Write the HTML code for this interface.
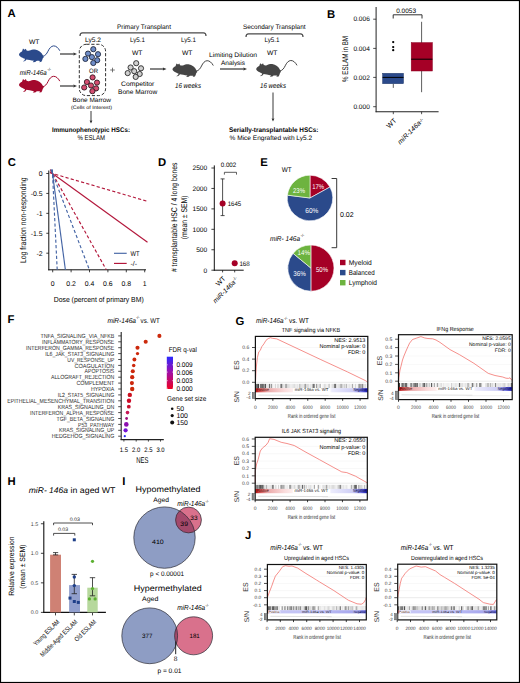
<!DOCTYPE html>
<html><head><meta charset="utf-8"><style>
html,body{margin:0;padding:0;background:#fff;}
body{width:520px;height:683px;overflow:hidden;}
svg{display:block;font-family:"Liberation Sans", sans-serif;text-rendering:geometricPrecision;}
</style></head><body>
<svg width="520" height="683" viewBox="0 0 520 683">
<rect x="0" y="0" width="520" height="683" fill="#fff"/>
<text x="7.50" y="17.00" font-size="11.3" font-weight="bold" fill="#000">A</text>
<text x="29.00" y="44.00" font-size="6.6" textLength="10.50" lengthAdjust="spacingAndGlyphs">WT</text>
<text x="19.70" y="74.80" font-size="7.0" font-style="italic" textLength="27.00" lengthAdjust="spacingAndGlyphs">miR-146a</text>
<text x="47.40" y="71.20" font-size="4.6" textLength="3.60" lengthAdjust="spacingAndGlyphs">-/-</text>
<g transform="translate(19.00,54.40) scale(1.0)"><path d="M0,0 C0.3,-1.2 1.5,-2.4 3.0,-3.0 L4.0,-5.8 L5.5,-4.6 L6.8,-5.7 L7.6,-4.0 C8.5,-3.6 9.5,-3.4 10.5,-3.8 C12,-4.6 14,-5.0 16,-4.9 C19.5,-4.5 22.5,-2.2 24.0,1.2 L24.8,2.8 L23.8,3.9 C23.4,5.5 23.0,6.6 22.4,7.4 L20.2,7.8 L20.6,7.1 L21.2,6.8 C20.0,6.4 18.5,6.3 17.4,6.6 L16.2,7.6 L13.8,7.8 L14.2,7.1 L15.0,6.4 C12,5.9 9,5.2 7.5,5.0 L6.2,6.6 L4.0,7.2 L4.4,6.6 L5.6,5.8 L6.0,4.4 C4.5,3.8 2.5,2.9 1.3,2.0 C0.5,1.5 0,0.8 0,0 Z" fill="#2b4a8b"/><path d="M24.0,1.9 C26.3,1.5 27.7,-0.6 29.0,-3.2 C30.3,-6.0 32.2,-8.4 34.6,-8.5 C37.0,-8.6 39.2,-6.6 40.6,-4.0" fill="none" stroke="#2b4a8b" stroke-width="1.0" stroke-linecap="round"/></g>
<g transform="translate(19.00,84.80) scale(1.0)"><path d="M0,0 C0.3,-1.2 1.5,-2.4 3.0,-3.0 L4.0,-5.8 L5.5,-4.6 L6.8,-5.7 L7.6,-4.0 C8.5,-3.6 9.5,-3.4 10.5,-3.8 C12,-4.6 14,-5.0 16,-4.9 C19.5,-4.5 22.5,-2.2 24.0,1.2 L24.8,2.8 L23.8,3.9 C23.4,5.5 23.0,6.6 22.4,7.4 L20.2,7.8 L20.6,7.1 L21.2,6.8 C20.0,6.4 18.5,6.3 17.4,6.6 L16.2,7.6 L13.8,7.8 L14.2,7.1 L15.0,6.4 C12,5.9 9,5.2 7.5,5.0 L6.2,6.6 L4.0,7.2 L4.4,6.6 L5.6,5.8 L6.0,4.4 C4.5,3.8 2.5,2.9 1.3,2.0 C0.5,1.5 0,0.8 0,0 Z" fill="#a4092d"/><path d="M24.0,1.9 C26.3,1.5 27.7,-0.6 29.0,-3.2 C30.3,-6.0 32.2,-8.4 34.6,-8.5 C37.0,-8.6 39.2,-6.6 40.6,-4.0" fill="none" stroke="#a4092d" stroke-width="1.0" stroke-linecap="round"/></g>
<line x1="60.00" y1="54.00" x2="73.40" y2="54.00" stroke="#333" stroke-width="1.2"/>
<path d="M77.00,54.00 L73.40,55.62 L73.40,52.38 Z" fill="#333"/>
<line x1="60.00" y1="86.00" x2="73.40" y2="86.00" stroke="#333" stroke-width="1.2"/>
<path d="M77.00,86.00 L73.40,87.62 L73.40,84.38 Z" fill="#333"/>
<text x="117.00" y="28.50" font-size="6.6" textLength="54.00" lengthAdjust="spacingAndGlyphs">Primary Transplant</text>
<path d="M80,35.9 Q80,32.9 82.5,32.9 L203.5,32.9 Q206,32.9 206,35.9" fill="none" stroke="#4a4a4a" stroke-width="1.2"/>
<text x="243.00" y="28.50" font-size="6.6" textLength="62.50" lengthAdjust="spacingAndGlyphs">Secondary Transplant</text>
<path d="M246,36.9 Q246,33.9 248.5,33.9 L300.5,33.9 Q303,33.9 303,36.9" fill="none" stroke="#4a4a4a" stroke-width="1.2"/>
<text x="85.00" y="41.60" font-size="6.5" textLength="16.00" lengthAdjust="spacingAndGlyphs">Ly5.2</text>
<text x="130.00" y="41.60" font-size="6.5" textLength="15.00" lengthAdjust="spacingAndGlyphs">Ly5.1</text>
<text x="181.00" y="41.60" font-size="6.5" textLength="15.00" lengthAdjust="spacingAndGlyphs">Ly5.1</text>
<text x="264.50" y="41.60" font-size="6.5" textLength="15.00" lengthAdjust="spacingAndGlyphs">Ly5.1</text>
<text x="132.00" y="55.00" font-size="6.6" textLength="10.50" lengthAdjust="spacingAndGlyphs">WT</text>
<text x="182.00" y="55.00" font-size="6.6" textLength="10.50" lengthAdjust="spacingAndGlyphs">WT</text>
<text x="267.00" y="55.00" font-size="6.6" textLength="10.50" lengthAdjust="spacingAndGlyphs">WT</text>
<rect x="79.30" y="44.30" width="26.30" height="51.30" fill="none" stroke="#1a1a1a" stroke-width="0.9" rx="7" stroke-dasharray="3.2 1.8"/>
<circle cx="93.30" cy="49.20" r="2.60" fill="#6f8dc8" stroke="#1a2238" stroke-width="0.85"/>
<circle cx="88.00" cy="53.60" r="2.60" fill="#6f8dc8" stroke="#1a2238" stroke-width="0.85"/>
<circle cx="98.00" cy="54.20" r="2.60" fill="#6f8dc8" stroke="#1a2238" stroke-width="0.85"/>
<circle cx="91.90" cy="57.10" r="2.60" fill="#6f8dc8" stroke="#1a2238" stroke-width="0.85"/>
<circle cx="85.40" cy="58.90" r="2.60" fill="#6f8dc8" stroke="#1a2238" stroke-width="0.85"/>
<circle cx="97.20" cy="60.20" r="2.60" fill="#6f8dc8" stroke="#1a2238" stroke-width="0.85"/>
<circle cx="93.30" cy="63.00" r="2.60" fill="#6f8dc8" stroke="#1a2238" stroke-width="0.85"/>
<circle cx="92.60" cy="77.40" r="2.60" fill="#d44d70" stroke="#2a161c" stroke-width="0.85"/>
<circle cx="86.90" cy="82.00" r="2.60" fill="#d44d70" stroke="#2a161c" stroke-width="0.85"/>
<circle cx="97.00" cy="82.60" r="2.60" fill="#d44d70" stroke="#2a161c" stroke-width="0.85"/>
<circle cx="91.00" cy="85.50" r="2.60" fill="#d44d70" stroke="#2a161c" stroke-width="0.85"/>
<circle cx="84.20" cy="87.50" r="2.60" fill="#d44d70" stroke="#2a161c" stroke-width="0.85"/>
<circle cx="96.10" cy="88.40" r="2.60" fill="#d44d70" stroke="#2a161c" stroke-width="0.85"/>
<circle cx="92.40" cy="91.20" r="2.60" fill="#d44d70" stroke="#2a161c" stroke-width="0.85"/>
<text x="89.00" y="73.00" font-size="6.3" textLength="9.00" lengthAdjust="spacingAndGlyphs">OR</text>
<text x="72.50" y="102.00" font-size="6.3" textLength="38.50" lengthAdjust="spacingAndGlyphs">Bone Marrow</text>
<text x="71.00" y="108.60" font-size="4.9" textLength="41.00" lengthAdjust="spacingAndGlyphs">(Cells of Interest)</text>
<line x1="91.00" y1="111.00" x2="91.00" y2="120.50" stroke="#222" stroke-width="0.9"/>
<path d="M91.00,123.50 L89.65,120.50 L92.35,120.50 Z" fill="#222"/>
<text x="52.00" y="131.70" font-size="6.7" font-weight="bold" textLength="78.00" lengthAdjust="spacingAndGlyphs">Immunophenotypic HSCs:</text>
<text x="77.50" y="140.00" font-size="7.0" textLength="27.50" lengthAdjust="spacingAndGlyphs">% ESLAM</text>
<line x1="110.20" y1="70.00" x2="114.80" y2="70.00" stroke="#555" stroke-width="0.8"/>
<line x1="112.50" y1="67.70" x2="112.50" y2="72.30" stroke="#555" stroke-width="0.8"/>
<circle cx="136.20" cy="63.20" r="2.60" fill="#cfcfcf" stroke="#1e1e1e" stroke-width="0.85"/>
<circle cx="130.60" cy="67.50" r="2.60" fill="#cfcfcf" stroke="#1e1e1e" stroke-width="0.85"/>
<circle cx="141.00" cy="68.30" r="2.60" fill="#cfcfcf" stroke="#1e1e1e" stroke-width="0.85"/>
<circle cx="134.20" cy="71.20" r="2.60" fill="#cfcfcf" stroke="#1e1e1e" stroke-width="0.85"/>
<circle cx="127.70" cy="73.10" r="2.60" fill="#cfcfcf" stroke="#1e1e1e" stroke-width="0.85"/>
<circle cx="139.70" cy="74.00" r="2.60" fill="#cfcfcf" stroke="#1e1e1e" stroke-width="0.85"/>
<circle cx="135.70" cy="76.90" r="2.60" fill="#cfcfcf" stroke="#1e1e1e" stroke-width="0.85"/>
<text x="121.00" y="85.80" font-size="6.6" textLength="33.40" lengthAdjust="spacingAndGlyphs">Competitor</text>
<text x="118.00" y="93.60" font-size="6.6" textLength="39.30" lengthAdjust="spacingAndGlyphs">Bone Marrow</text>
<line x1="150.00" y1="69.00" x2="162.90" y2="69.00" stroke="#333" stroke-width="1.2"/>
<path d="M166.50,69.00 L162.90,70.62 L162.90,67.38 Z" fill="#333"/>
<g transform="translate(172.50,69.20) scale(1.0)"><path d="M0,0 C0.3,-1.2 1.5,-2.4 3.0,-3.0 L4.0,-5.8 L5.5,-4.6 L6.8,-5.7 L7.6,-4.0 C8.5,-3.6 9.5,-3.4 10.5,-3.8 C12,-4.6 14,-5.0 16,-4.9 C19.5,-4.5 22.5,-2.2 24.0,1.2 L24.8,2.8 L23.8,3.9 C23.4,5.5 23.0,6.6 22.4,7.4 L20.2,7.8 L20.6,7.1 L21.2,6.8 C20.0,6.4 18.5,6.3 17.4,6.6 L16.2,7.6 L13.8,7.8 L14.2,7.1 L15.0,6.4 C12,5.9 9,5.2 7.5,5.0 L6.2,6.6 L4.0,7.2 L4.4,6.6 L5.6,5.8 L6.0,4.4 C4.5,3.8 2.5,2.9 1.3,2.0 C0.5,1.5 0,0.8 0,0 Z" fill="#454545"/><path d="M24.0,1.9 C26.3,1.5 27.7,-0.6 29.0,-3.2 C30.3,-6.0 32.2,-8.4 34.6,-8.5 C37.0,-8.6 39.2,-6.6 40.6,-4.0" fill="none" stroke="#454545" stroke-width="1.0" stroke-linecap="round"/></g>
<text x="175.00" y="87.60" font-size="7.1" font-style="italic" textLength="26.00" lengthAdjust="spacingAndGlyphs">16 weeks</text>
<text x="209.00" y="57.00" font-size="6.4" textLength="48.00" lengthAdjust="spacingAndGlyphs">Limiting Dilution</text>
<text x="221.00" y="64.70" font-size="6.4" textLength="24.00" lengthAdjust="spacingAndGlyphs">Analysis</text>
<line x1="220.00" y1="69.00" x2="243.40" y2="69.00" stroke="#333" stroke-width="1.2"/>
<path d="M247.00,69.00 L243.40,70.62 L243.40,67.38 Z" fill="#333"/>
<g transform="translate(256.20,69.00) scale(1.0)"><path d="M0,0 C0.3,-1.2 1.5,-2.4 3.0,-3.0 L4.0,-5.8 L5.5,-4.6 L6.8,-5.7 L7.6,-4.0 C8.5,-3.6 9.5,-3.4 10.5,-3.8 C12,-4.6 14,-5.0 16,-4.9 C19.5,-4.5 22.5,-2.2 24.0,1.2 L24.8,2.8 L23.8,3.9 C23.4,5.5 23.0,6.6 22.4,7.4 L20.2,7.8 L20.6,7.1 L21.2,6.8 C20.0,6.4 18.5,6.3 17.4,6.6 L16.2,7.6 L13.8,7.8 L14.2,7.1 L15.0,6.4 C12,5.9 9,5.2 7.5,5.0 L6.2,6.6 L4.0,7.2 L4.4,6.6 L5.6,5.8 L6.0,4.4 C4.5,3.8 2.5,2.9 1.3,2.0 C0.5,1.5 0,0.8 0,0 Z" fill="#454545"/><path d="M24.0,1.9 C26.3,1.5 27.7,-0.6 29.0,-3.2 C30.3,-6.0 32.2,-8.4 34.6,-8.5 C37.0,-8.6 39.2,-6.6 40.6,-4.0" fill="none" stroke="#454545" stroke-width="1.0" stroke-linecap="round"/></g>
<text x="260.00" y="87.60" font-size="7.1" font-style="italic" textLength="26.00" lengthAdjust="spacingAndGlyphs">16 weeks</text>
<line x1="273.00" y1="92.50" x2="273.00" y2="118.50" stroke="#222" stroke-width="0.9"/>
<path d="M273.00,121.50 L271.65,118.50 L274.35,118.50 Z" fill="#222"/>
<text x="229.00" y="131.60" font-size="6.7" font-weight="bold" textLength="89.50" lengthAdjust="spacingAndGlyphs">Serially-transplantable HSCs:</text>
<text x="229.60" y="139.80" font-size="6.4" textLength="82.50" lengthAdjust="spacingAndGlyphs">% Mice Engrafted with Ly5.2</text>
<text x="327.00" y="17.80" font-size="11.3" font-weight="bold" fill="#000">B</text>
<line x1="376.10" y1="7.00" x2="376.10" y2="112.20" stroke="#222" stroke-width="1.0"/>
<line x1="375.60" y1="111.70" x2="438.60" y2="111.70" stroke="#222" stroke-width="1.1"/>
<line x1="373.20" y1="19.20" x2="376.10" y2="19.20" stroke="#222" stroke-width="0.8"/>
<text x="369.80" y="21.40" font-size="6.6" text-anchor="end" textLength="16.40" lengthAdjust="spacingAndGlyphs">0.006</text>
<line x1="373.20" y1="48.40" x2="376.10" y2="48.40" stroke="#222" stroke-width="0.8"/>
<text x="369.80" y="50.60" font-size="6.6" text-anchor="end" textLength="16.40" lengthAdjust="spacingAndGlyphs">0.004</text>
<line x1="373.20" y1="77.40" x2="376.10" y2="77.40" stroke="#222" stroke-width="0.8"/>
<text x="369.80" y="79.60" font-size="6.6" text-anchor="end" textLength="16.40" lengthAdjust="spacingAndGlyphs">0.002</text>
<line x1="373.20" y1="106.70" x2="376.10" y2="106.70" stroke="#222" stroke-width="0.8"/>
<text x="369.80" y="108.90" font-size="6.6" text-anchor="end" textLength="16.40" lengthAdjust="spacingAndGlyphs">0.000</text>
<line x1="393.30" y1="111.70" x2="393.30" y2="114.20" stroke="#222" stroke-width="0.8"/>
<line x1="421.60" y1="111.70" x2="421.60" y2="114.20" stroke="#222" stroke-width="0.8"/>
<line x1="393.30" y1="83.80" x2="393.30" y2="87.90" stroke="#333" stroke-width="0.8"/>
<line x1="421.60" y1="21.80" x2="421.60" y2="92.20" stroke="#333" stroke-width="0.8"/>
<rect x="382.60" y="73.30" width="20.90" height="10.40" fill="#2b4a8b" stroke="#1e3668" stroke-width="0.5"/>
<line x1="382.60" y1="77.40" x2="403.50" y2="77.40" stroke="#000" stroke-width="1.0"/>
<rect x="411.20" y="42.60" width="21.20" height="28.40" fill="#a50026" stroke="#8a0020" stroke-width="0.5"/>
<line x1="411.20" y1="59.20" x2="432.40" y2="59.20" stroke="#000" stroke-width="1.0"/>
<circle cx="393.20" cy="42.10" r="1.15" fill="#000"/>
<circle cx="393.20" cy="47.10" r="1.15" fill="#000"/>
<circle cx="393.20" cy="50.20" r="1.15" fill="#000"/>
<text x="396.20" y="12.70" font-size="6.4" textLength="19.80" lengthAdjust="spacingAndGlyphs">0.0053</text>
<path d="M393.2,18.5 L393.2,14.8 L422,14.8 L422,18.5" fill="none" stroke="#333" stroke-width="1.0"/>
<text x="348.20" y="59.00" font-size="8.2" text-anchor="middle" textLength="46.00" lengthAdjust="spacingAndGlyphs" transform="rotate(-90 348.20 59.00)">% ESLAM in BM</text>
<text x="397.00" y="121.00" font-size="7.0" text-anchor="end" transform="rotate(-45 397.00 121.00)">WT</text>
<text x="421.40" y="123.60" font-size="6.9" text-anchor="end" font-style="italic" transform="rotate(-45 421.40 123.60)">miR-146a</text>
<text x="423.60" y="119.80" font-size="4.4" text-anchor="end" transform="rotate(-45 423.60 119.80)">-/-</text>
<text x="7.70" y="165.70" font-size="11.3" font-weight="bold" fill="#000">C</text>
<line x1="48.80" y1="170.50" x2="48.80" y2="270.30" stroke="#111" stroke-width="1.0"/>
<line x1="48.30" y1="269.80" x2="146.00" y2="269.80" stroke="#111" stroke-width="1.0"/>
<line x1="46.30" y1="173.50" x2="48.80" y2="173.50" stroke="#111" stroke-width="0.8"/>
<text x="42.60" y="175.90" font-size="6.9" text-anchor="end">0</text>
<line x1="46.30" y1="193.43" x2="48.80" y2="193.43" stroke="#111" stroke-width="0.8"/>
<text x="42.60" y="195.83" font-size="6.9" text-anchor="end">-0.5</text>
<line x1="46.30" y1="213.35" x2="48.80" y2="213.35" stroke="#111" stroke-width="0.8"/>
<text x="42.60" y="215.75" font-size="6.9" text-anchor="end">-1</text>
<line x1="46.30" y1="233.27" x2="48.80" y2="233.27" stroke="#111" stroke-width="0.8"/>
<text x="42.60" y="235.67" font-size="6.9" text-anchor="end">-1.5</text>
<line x1="46.30" y1="253.20" x2="48.80" y2="253.20" stroke="#111" stroke-width="0.8"/>
<text x="42.60" y="255.60" font-size="6.9" text-anchor="end">-2</text>
<line x1="52.70" y1="269.80" x2="52.70" y2="272.30" stroke="#111" stroke-width="0.8"/>
<text x="52.70" y="285.60" font-size="6.9" text-anchor="middle">0</text>
<line x1="71.10" y1="269.80" x2="71.10" y2="272.30" stroke="#111" stroke-width="0.8"/>
<text x="71.10" y="285.60" font-size="6.9" text-anchor="middle">0.2</text>
<line x1="89.50" y1="269.80" x2="89.50" y2="272.30" stroke="#111" stroke-width="0.8"/>
<text x="89.50" y="285.60" font-size="6.9" text-anchor="middle">0.4</text>
<line x1="107.90" y1="269.80" x2="107.90" y2="272.30" stroke="#111" stroke-width="0.8"/>
<text x="107.90" y="285.60" font-size="6.9" text-anchor="middle">0.6</text>
<line x1="126.30" y1="269.80" x2="126.30" y2="272.30" stroke="#111" stroke-width="0.8"/>
<text x="126.30" y="285.60" font-size="6.9" text-anchor="middle">0.8</text>
<line x1="144.70" y1="269.80" x2="144.70" y2="272.30" stroke="#111" stroke-width="0.8"/>
<text x="144.70" y="285.60" font-size="6.9" text-anchor="middle">1</text>
<text x="53.70" y="301.60" font-size="7.4" textLength="90.00" lengthAdjust="spacingAndGlyphs">Dose (percent of primary BM)</text>
<text x="25.60" y="220.20" font-size="8.4" text-anchor="middle" textLength="85.70" lengthAdjust="spacingAndGlyphs" transform="rotate(-90 25.60 220.20)">Log fraction non-responding</text>
<line x1="50.00" y1="172.77" x2="147.50" y2="201.34" stroke="#b3173b" stroke-width="1.15" stroke-dasharray="3.2 2.2"/>
<line x1="50.00" y1="171.69" x2="147.50" y2="242.19" stroke="#b3173b" stroke-width="1.15"/>
<line x1="50.27" y1="169.50" x2="106.30" y2="269.80" stroke="#b3173b" stroke-width="1.15" stroke-dasharray="3.2 2.2"/>
<line x1="50.97" y1="169.50" x2="89.40" y2="269.80" stroke="#4565a5" stroke-width="1.15" stroke-dasharray="3.2 2.2"/>
<line x1="51.96" y1="169.50" x2="65.39" y2="269.80" stroke="#4565a5" stroke-width="1.15"/>
<line x1="52.30" y1="169.50" x2="57.20" y2="269.80" stroke="#4565a5" stroke-width="1.15" stroke-dasharray="3.2 2.2"/>
<line x1="114.00" y1="253.30" x2="126.70" y2="253.30" stroke="#4565a5" stroke-width="1.15"/>
<text x="130.50" y="255.70" font-size="6.9" textLength="9.00" lengthAdjust="spacingAndGlyphs">WT</text>
<line x1="114.00" y1="263.40" x2="126.70" y2="263.40" stroke="#b3173b" stroke-width="1.15"/>
<text x="130.50" y="265.70" font-size="6.9" textLength="6.50" lengthAdjust="spacingAndGlyphs">-/-</text>
<text x="158.00" y="165.90" font-size="11.3" font-weight="bold" fill="#000">D</text>
<line x1="214.30" y1="165.40" x2="214.30" y2="270.70" stroke="#111" stroke-width="1.0"/>
<line x1="213.80" y1="270.20" x2="243.70" y2="270.20" stroke="#111" stroke-width="1.0"/>
<line x1="211.40" y1="270.20" x2="214.30" y2="270.20" stroke="#111" stroke-width="0.8"/>
<text x="207.20" y="272.50" font-size="6.6" text-anchor="end">0</text>
<line x1="211.40" y1="249.76" x2="214.30" y2="249.76" stroke="#111" stroke-width="0.8"/>
<text x="207.20" y="252.06" font-size="6.6" text-anchor="end">500</text>
<line x1="211.40" y1="229.32" x2="214.30" y2="229.32" stroke="#111" stroke-width="0.8"/>
<text x="207.20" y="231.62" font-size="6.6" text-anchor="end">1000</text>
<line x1="211.40" y1="208.88" x2="214.30" y2="208.88" stroke="#111" stroke-width="0.8"/>
<text x="207.20" y="211.18" font-size="6.6" text-anchor="end">1500</text>
<line x1="211.40" y1="188.44" x2="214.30" y2="188.44" stroke="#111" stroke-width="0.8"/>
<text x="207.20" y="190.74" font-size="6.6" text-anchor="end">2000</text>
<line x1="211.40" y1="168.00" x2="214.30" y2="168.00" stroke="#111" stroke-width="0.8"/>
<text x="207.20" y="170.30" font-size="6.6" text-anchor="end">2500</text>
<line x1="222.60" y1="270.20" x2="222.60" y2="272.40" stroke="#111" stroke-width="0.8"/>
<line x1="234.70" y1="270.20" x2="234.70" y2="272.40" stroke="#111" stroke-width="0.8"/>
<line x1="222.60" y1="178.90" x2="222.60" y2="215.60" stroke="#222" stroke-width="0.8"/>
<line x1="220.60" y1="178.90" x2="224.60" y2="178.90" stroke="#222" stroke-width="0.8"/>
<line x1="220.60" y1="215.60" x2="224.60" y2="215.60" stroke="#222" stroke-width="0.8"/>
<circle cx="222.60" cy="203.50" r="3.00" fill="#a50026"/>
<circle cx="234.70" cy="263.30" r="3.00" fill="#a50026"/>
<text x="227.70" y="205.60" font-size="6.6" textLength="13.50" lengthAdjust="spacingAndGlyphs">1645</text>
<text x="239.40" y="265.60" font-size="6.6" textLength="10.40" lengthAdjust="spacingAndGlyphs">168</text>
<text x="220.70" y="167.20" font-size="6.4" textLength="15.60" lengthAdjust="spacingAndGlyphs">0.002</text>
<path d="M224.4,174.6 L224.4,172.3 L236.5,172.3 L236.5,174.6" fill="none" stroke="#333" stroke-width="0.8"/>
<text x="177.40" y="217.30" font-size="8.3" text-anchor="middle" textLength="109.60" lengthAdjust="spacingAndGlyphs" transform="rotate(-90 177.40 217.30)"># transplantable HSC / 4 long bones</text>
<text x="187.00" y="217.40" font-size="8.3" text-anchor="middle" textLength="43.90" lengthAdjust="spacingAndGlyphs" transform="rotate(-90 187.00 217.40)">(mean ± SEM)</text>
<text x="226.00" y="279.00" font-size="6.9" text-anchor="end" transform="rotate(-45 226.00 279.00)">WT</text>
<text x="236.00" y="282.90" font-size="6.7" text-anchor="end" font-style="italic" transform="rotate(-45 236.00 282.90)">miR-146a</text>
<text x="237.20" y="278.20" font-size="4.4" text-anchor="end" transform="rotate(-45 237.20 278.20)">-/-</text>
<text x="260.20" y="165.60" font-size="11.3" font-weight="bold" fill="#000">E</text>
<text x="281.80" y="171.80" font-size="6.9" textLength="9.90" lengthAdjust="spacingAndGlyphs">WT</text>
<path d="M310.00,198.00 L310.00,175.20 A22.8,22.8 0 0 1 329.98,187.02 Z" fill="#a50026" stroke="#fff" stroke-width="0.6"/>
<path d="M310.00,198.00 L329.98,187.02 A22.8,22.8 0 1 1 287.38,195.14 Z" fill="#2b4a8b" stroke="#fff" stroke-width="0.6"/>
<path d="M310.00,198.00 L287.38,195.14 A22.8,22.8 0 0 1 310.00,175.20 Z" fill="#6db33f" stroke="#fff" stroke-width="0.6"/>
<text x="318.20" y="189.00" font-size="7.0" text-anchor="middle" fill="#fff" textLength="12.00" lengthAdjust="spacingAndGlyphs">17%</text>
<text x="299.00" y="192.80" font-size="7.0" text-anchor="middle" fill="#fff" textLength="12.00" lengthAdjust="spacingAndGlyphs">23%</text>
<text x="311.80" y="213.30" font-size="7.0" text-anchor="middle" fill="#fff" textLength="13.00" lengthAdjust="spacingAndGlyphs">60%</text>
<path d="M331.6,178.5 L336.7,178.5 L336.7,247.7 L331.6,247.7" fill="none" stroke="#222" stroke-width="0.9"/>
<text x="340.00" y="217.00" font-size="7.0" textLength="13.70" lengthAdjust="spacingAndGlyphs">0.02</text>
<text x="270.00" y="241.00" font-size="7.0" font-style="italic" textLength="30.00" lengthAdjust="spacingAndGlyphs">miR- 146a</text>
<text x="300.80" y="237.20" font-size="4.6" textLength="3.40" lengthAdjust="spacingAndGlyphs">-/-</text>
<path d="M310.90,268.10 L310.90,245.00 A23.1,23.1 0 0 1 310.90,291.20 Z" fill="#a50026" stroke="#fff" stroke-width="0.6"/>
<path d="M310.90,268.10 L310.90,291.20 A23.1,23.1 0 0 1 293.10,253.38 Z" fill="#2b4a8b" stroke="#fff" stroke-width="0.6"/>
<path d="M310.90,268.10 L293.10,253.38 A23.1,23.1 0 0 1 310.90,245.00 Z" fill="#6db33f" stroke="#fff" stroke-width="0.6"/>
<text x="322.00" y="272.30" font-size="7.0" text-anchor="middle" fill="#fff" textLength="12.00" lengthAdjust="spacingAndGlyphs">50%</text>
<text x="299.60" y="275.80" font-size="7.0" text-anchor="middle" fill="#fff" textLength="12.50" lengthAdjust="spacingAndGlyphs">36%</text>
<text x="303.80" y="255.30" font-size="7.0" text-anchor="middle" fill="#fff" textLength="12.50" lengthAdjust="spacingAndGlyphs">14%</text>
<rect x="340.00" y="259.80" width="5.50" height="5.40" fill="#a50026"/>
<text x="348.80" y="264.80" font-size="7.0" textLength="23.00" lengthAdjust="spacingAndGlyphs">Myeloid</text>
<rect x="340.00" y="269.90" width="5.50" height="5.40" fill="#2b4a8b"/>
<text x="348.80" y="274.90" font-size="7.0" textLength="25.80" lengthAdjust="spacingAndGlyphs">Balanced</text>
<rect x="340.00" y="280.00" width="5.50" height="5.40" fill="#6db33f"/>
<text x="348.80" y="285.00" font-size="7.0" textLength="28.20" lengthAdjust="spacingAndGlyphs">Lymphoid</text>
<text x="7.50" y="323.20" font-size="11.3" font-weight="bold" fill="#000">F</text>
<text x="107.40" y="323.10" font-size="7.1" font-style="italic" textLength="28.60" lengthAdjust="spacingAndGlyphs">miR-146a</text>
<text x="136.20" y="319.40" font-size="4.6" textLength="3.30" lengthAdjust="spacingAndGlyphs">-/-</text>
<text x="140.60" y="323.10" font-size="7.1" textLength="19.10" lengthAdjust="spacingAndGlyphs">vs. WT</text>
<text x="114.30" y="338.00" font-size="6.0" text-anchor="end" fill="#2a2a2a" textLength="73.90" lengthAdjust="spacingAndGlyphs">TNFA_SIGNALING_VIA_NFKB</text>
<line x1="118.20" y1="335.90" x2="121.20" y2="335.90" stroke="#222" stroke-width="0.8"/>
<circle cx="159.40" cy="335.90" r="2.05" fill="#cc2a0c"/>
<text x="114.30" y="343.90" font-size="6.0" text-anchor="end" fill="#2a2a2a" textLength="72.30" lengthAdjust="spacingAndGlyphs">INFLAMMATORY_RESPONSE</text>
<line x1="118.20" y1="341.80" x2="121.20" y2="341.80" stroke="#222" stroke-width="0.8"/>
<circle cx="145.70" cy="341.80" r="2.05" fill="#cc2a0c"/>
<text x="114.30" y="349.80" font-size="6.0" text-anchor="end" fill="#2a2a2a" textLength="88.30" lengthAdjust="spacingAndGlyphs">INTERFERON_GAMMA_RESPONSE</text>
<line x1="118.20" y1="347.70" x2="121.20" y2="347.70" stroke="#222" stroke-width="0.8"/>
<circle cx="137.50" cy="347.70" r="2.05" fill="#cc280c"/>
<text x="114.30" y="355.70" font-size="6.0" text-anchor="end" fill="#2a2a2a" textLength="69.10" lengthAdjust="spacingAndGlyphs">IL6_JAK_STAT3_SIGNALING</text>
<line x1="118.20" y1="353.60" x2="121.20" y2="353.60" stroke="#222" stroke-width="0.8"/>
<circle cx="137.50" cy="353.60" r="1.65" fill="#cc280c"/>
<text x="114.30" y="361.60" font-size="6.0" text-anchor="end" fill="#2a2a2a" textLength="47.00" lengthAdjust="spacingAndGlyphs">UV_RESPONSE_UP</text>
<line x1="118.20" y1="359.50" x2="121.20" y2="359.50" stroke="#222" stroke-width="0.8"/>
<circle cx="134.40" cy="359.50" r="1.95" fill="#cc280c"/>
<text x="114.30" y="367.50" font-size="6.0" text-anchor="end" fill="#2a2a2a" textLength="39.80" lengthAdjust="spacingAndGlyphs">COAGULATION</text>
<line x1="118.20" y1="365.40" x2="121.20" y2="365.40" stroke="#222" stroke-width="0.8"/>
<circle cx="133.70" cy="365.40" r="1.75" fill="#cc280c"/>
<text x="114.30" y="373.40" font-size="6.0" text-anchor="end" fill="#2a2a2a" textLength="29.70" lengthAdjust="spacingAndGlyphs">APOPTOSIS</text>
<line x1="118.20" y1="371.30" x2="121.20" y2="371.30" stroke="#222" stroke-width="0.8"/>
<circle cx="132.80" cy="371.30" r="2.05" fill="#cc280c"/>
<text x="114.30" y="379.30" font-size="6.0" text-anchor="end" fill="#2a2a2a" textLength="63.30" lengthAdjust="spacingAndGlyphs">ALLOGRAFT_REJECTION</text>
<line x1="118.20" y1="377.20" x2="121.20" y2="377.20" stroke="#222" stroke-width="0.8"/>
<circle cx="132.20" cy="377.20" r="2.15" fill="#cc260c"/>
<text x="114.30" y="385.20" font-size="6.0" text-anchor="end" fill="#2a2a2a" textLength="37.90" lengthAdjust="spacingAndGlyphs">COMPLEMENT</text>
<line x1="118.20" y1="383.10" x2="121.20" y2="383.10" stroke="#222" stroke-width="0.8"/>
<circle cx="131.90" cy="383.10" r="2.05" fill="#cc260c"/>
<text x="114.30" y="391.10" font-size="6.0" text-anchor="end" fill="#2a2a2a" textLength="23.40" lengthAdjust="spacingAndGlyphs">HYPOXIA</text>
<line x1="118.20" y1="389.00" x2="121.20" y2="389.00" stroke="#222" stroke-width="0.8"/>
<circle cx="132.20" cy="389.00" r="2.20" fill="#cc2a0a"/>
<text x="114.30" y="397.00" font-size="6.0" text-anchor="end" fill="#2a2a2a" textLength="56.60" lengthAdjust="spacingAndGlyphs">IL2_STAT5_SIGNALING</text>
<line x1="118.20" y1="394.90" x2="121.20" y2="394.90" stroke="#222" stroke-width="0.8"/>
<circle cx="129.80" cy="394.90" r="2.20" fill="#cc1020"/>
<text x="114.30" y="402.90" font-size="6.0" text-anchor="end" fill="#2a2a2a" textLength="107.10" lengthAdjust="spacingAndGlyphs">EPITHELIAL_MESENCHYMAL_TRANSITION</text>
<line x1="118.20" y1="400.80" x2="121.20" y2="400.80" stroke="#222" stroke-width="0.8"/>
<circle cx="129.00" cy="400.80" r="2.20" fill="#cc0a26"/>
<text x="114.30" y="408.80" font-size="6.0" text-anchor="end" fill="#2a2a2a" textLength="56.60" lengthAdjust="spacingAndGlyphs">KRAS_SIGNALING_DN</text>
<line x1="118.20" y1="406.70" x2="121.20" y2="406.70" stroke="#222" stroke-width="0.8"/>
<circle cx="128.80" cy="406.70" r="1.90" fill="#c8102e"/>
<text x="114.30" y="414.70" font-size="6.0" text-anchor="end" fill="#2a2a2a" textLength="84.30" lengthAdjust="spacingAndGlyphs">INTERFERON_ALPHA_RESPONSE</text>
<line x1="118.20" y1="412.60" x2="121.20" y2="412.60" stroke="#222" stroke-width="0.8"/>
<circle cx="127.50" cy="412.60" r="1.80" fill="#c81856"/>
<text x="114.30" y="420.60" font-size="6.0" text-anchor="end" fill="#2a2a2a" textLength="57.80" lengthAdjust="spacingAndGlyphs">TGF_BETA_SIGNALING</text>
<line x1="118.20" y1="418.50" x2="121.20" y2="418.50" stroke="#222" stroke-width="0.8"/>
<circle cx="126.60" cy="418.50" r="1.40" fill="#a0107a"/>
<text x="114.30" y="426.50" font-size="6.0" text-anchor="end" fill="#2a2a2a" textLength="36.30" lengthAdjust="spacingAndGlyphs">P53_PATHWAY</text>
<line x1="118.20" y1="424.40" x2="121.20" y2="424.40" stroke="#222" stroke-width="0.8"/>
<circle cx="126.30" cy="424.40" r="2.30" fill="#8c10b0"/>
<text x="114.30" y="432.40" font-size="6.0" text-anchor="end" fill="#2a2a2a" textLength="55.30" lengthAdjust="spacingAndGlyphs">KRAS_SIGNALING_UP</text>
<line x1="118.20" y1="430.30" x2="121.20" y2="430.30" stroke="#222" stroke-width="0.8"/>
<circle cx="125.60" cy="430.30" r="2.10" fill="#7414d2"/>
<text x="114.30" y="438.30" font-size="6.0" text-anchor="end" fill="#2a2a2a" textLength="62.60" lengthAdjust="spacingAndGlyphs">HEDGEHOG_SIGNALING</text>
<line x1="118.20" y1="436.20" x2="121.20" y2="436.20" stroke="#222" stroke-width="0.8"/>
<circle cx="124.80" cy="436.20" r="1.10" fill="#2424f0"/>
<line x1="121.20" y1="332.00" x2="121.20" y2="440.00" stroke="#222" stroke-width="1.1"/>
<line x1="120.60" y1="439.60" x2="163.80" y2="439.60" stroke="#222" stroke-width="1.1"/>
<line x1="123.90" y1="439.60" x2="123.90" y2="441.60" stroke="#222" stroke-width="0.8"/>
<text x="123.90" y="451.50" font-size="6.4" text-anchor="middle" textLength="8.20" lengthAdjust="spacingAndGlyphs">1.5</text>
<line x1="136.20" y1="439.60" x2="136.20" y2="441.60" stroke="#222" stroke-width="0.8"/>
<text x="136.20" y="451.50" font-size="6.4" text-anchor="middle" textLength="8.20" lengthAdjust="spacingAndGlyphs">2.0</text>
<line x1="148.40" y1="439.60" x2="148.40" y2="441.60" stroke="#222" stroke-width="0.8"/>
<text x="148.40" y="451.50" font-size="6.4" text-anchor="middle" textLength="8.20" lengthAdjust="spacingAndGlyphs">2.5</text>
<line x1="160.50" y1="439.60" x2="160.50" y2="441.60" stroke="#222" stroke-width="0.8"/>
<text x="160.50" y="451.50" font-size="6.4" text-anchor="middle" textLength="8.20" lengthAdjust="spacingAndGlyphs">3.0</text>
<text x="142.30" y="463.30" font-size="8.4" text-anchor="middle" textLength="12.20" lengthAdjust="spacingAndGlyphs">NES</text>
<text x="168.80" y="352.30" font-size="6.9" textLength="28.10" lengthAdjust="spacingAndGlyphs">FDR q-val</text>
<defs><linearGradient id="fdr" x1="0" y1="0" x2="0" y2="1"><stop offset="0" stop-color="#2a2aff"/><stop offset="0.45" stop-color="#9a10b0"/><stop offset="1" stop-color="#ee0020"/></linearGradient></defs>
<rect x="166.80" y="356.70" width="6.20" height="32.30" fill="url(#fdr)"/>
<line x1="166.80" y1="364.80" x2="168.00" y2="364.80" stroke="#fff" stroke-width="0.5"/>
<line x1="172.00" y1="364.80" x2="173.00" y2="364.80" stroke="#fff" stroke-width="0.5"/>
<text x="176.40" y="367.20" font-size="6.9" textLength="16.30" lengthAdjust="spacingAndGlyphs">0.009</text>
<line x1="166.80" y1="372.10" x2="168.00" y2="372.10" stroke="#fff" stroke-width="0.5"/>
<line x1="172.00" y1="372.10" x2="173.00" y2="372.10" stroke="#fff" stroke-width="0.5"/>
<text x="176.40" y="374.50" font-size="6.9" textLength="16.30" lengthAdjust="spacingAndGlyphs">0.006</text>
<line x1="166.80" y1="380.70" x2="168.00" y2="380.70" stroke="#fff" stroke-width="0.5"/>
<line x1="172.00" y1="380.70" x2="173.00" y2="380.70" stroke="#fff" stroke-width="0.5"/>
<text x="176.40" y="383.10" font-size="6.9" textLength="16.30" lengthAdjust="spacingAndGlyphs">0.003</text>
<line x1="166.80" y1="388.20" x2="168.00" y2="388.20" stroke="#fff" stroke-width="0.5"/>
<line x1="172.00" y1="388.20" x2="173.00" y2="388.20" stroke="#fff" stroke-width="0.5"/>
<text x="176.40" y="390.60" font-size="6.9" textLength="16.30" lengthAdjust="spacingAndGlyphs">0.000</text>
<text x="167.10" y="400.60" font-size="6.9" textLength="39.10" lengthAdjust="spacingAndGlyphs">Gene set size</text>
<circle cx="172.20" cy="408.80" r="1.30" fill="#111"/>
<text x="176.40" y="411.20" font-size="6.9">50</text>
<circle cx="172.20" cy="415.60" r="1.60" fill="#111"/>
<text x="176.40" y="418.00" font-size="6.9">100</text>
<circle cx="172.20" cy="422.40" r="2.00" fill="#111"/>
<text x="176.40" y="424.80" font-size="6.9">150</text>
<text x="235.50" y="324.90" font-size="11.3" font-weight="bold" fill="#000">G</text>
<text x="256.00" y="322.90" font-size="7.2" font-style="italic" textLength="27.60" lengthAdjust="spacingAndGlyphs">miR-146a</text>
<text x="284.20" y="319.60" font-size="4.6" textLength="3.30" lengthAdjust="spacingAndGlyphs">-/-</text>
<text x="289.00" y="322.90" font-size="7.2" textLength="20.00" lengthAdjust="spacingAndGlyphs">vs. WT</text>
<line x1="255.40" y1="382.30" x2="367.80" y2="382.30" stroke="#d4d4d4" stroke-width="0.5"/>
<line x1="255.40" y1="370.70" x2="367.80" y2="370.70" stroke="#f0f0f0" stroke-width="0.5"/>
<line x1="255.40" y1="359.10" x2="367.80" y2="359.10" stroke="#f0f0f0" stroke-width="0.5"/>
<line x1="255.40" y1="347.50" x2="367.80" y2="347.50" stroke="#f0f0f0" stroke-width="0.5"/>
<rect x="255.40" y="383.90" width="112.40" height="4.30" fill="#ececec"/>
<rect x="255.80" y="383.90" width="0.90" height="4.30" fill="#585858"/><rect x="256.70" y="383.90" width="0.65" height="4.30" fill="#4f4f4f"/><rect x="257.35" y="383.90" width="0.81" height="4.30" fill="#363636"/><rect x="258.16" y="383.90" width="0.98" height="4.30" fill="#242424"/><rect x="259.13" y="383.90" width="1.11" height="4.30" fill="#e6e6e6"/><rect x="260.24" y="383.90" width="1.29" height="4.30" fill="#525252"/><rect x="261.54" y="383.90" width="1.14" height="4.30" fill="#474747"/><rect x="262.67" y="383.90" width="1.07" height="4.30" fill="#474747"/><rect x="263.75" y="383.90" width="1.29" height="4.30" fill="#9c9c9c"/><rect x="265.04" y="383.90" width="1.30" height="4.30" fill="#4f4f4f"/><rect x="266.34" y="383.90" width="0.92" height="4.30" fill="#fbfbfb"/><rect x="267.26" y="383.90" width="1.35" height="4.30" fill="#e5e5e5"/><rect x="268.61" y="383.90" width="0.71" height="4.30" fill="#d5d5d5"/><rect x="269.32" y="383.90" width="0.95" height="4.30" fill="#393939"/><rect x="270.27" y="383.90" width="1.01" height="4.30" fill="#dedede"/><rect x="271.27" y="383.90" width="1.07" height="4.30" fill="#7f7f7f"/><rect x="272.34" y="383.90" width="1.15" height="4.30" fill="#fafafa"/><rect x="273.48" y="383.90" width="1.39" height="4.30" fill="#f8f8f8"/><rect x="274.88" y="383.90" width="1.29" height="4.30" fill="#d8d8d8"/><rect x="276.17" y="383.90" width="1.06" height="4.30" fill="#fafafa"/><rect x="277.22" y="383.90" width="1.27" height="4.30" fill="#dadada"/><rect x="278.49" y="383.90" width="0.65" height="4.30" fill="#dedede"/><rect x="279.14" y="383.90" width="0.67" height="4.30" fill="#fefefe"/><rect x="279.81" y="383.90" width="0.72" height="4.30" fill="#e3e3e3"/><rect x="280.53" y="383.90" width="1.30" height="4.30" fill="#5e5e5e"/><rect x="281.83" y="383.90" width="0.64" height="4.30" fill="#6f6f6f"/><rect x="282.46" y="383.90" width="1.30" height="4.30" fill="#e0e0e0"/><rect x="283.77" y="383.90" width="1.40" height="4.30" fill="#e8e8e8"/><rect x="285.17" y="383.90" width="1.08" height="4.30" fill="#a7a7a7"/><rect x="286.25" y="383.90" width="0.93" height="4.30" fill="#9c9c9c"/><rect x="287.17" y="383.90" width="0.63" height="4.30" fill="#d8d8d8"/><rect x="287.81" y="383.90" width="1.37" height="4.30" fill="#dfdfdf"/><rect x="289.17" y="383.90" width="0.97" height="4.30" fill="#e2e2e2"/><rect x="290.14" y="383.90" width="1.08" height="4.30" fill="#eeeeee"/><rect x="291.22" y="383.90" width="1.35" height="4.30" fill="#ededed"/><rect x="292.57" y="383.90" width="1.18" height="4.30" fill="#e4e4e4"/><rect x="293.75" y="383.90" width="1.38" height="4.30" fill="#dedede"/><rect x="295.13" y="383.90" width="0.61" height="4.30" fill="#eaeaea"/><rect x="295.74" y="383.90" width="0.62" height="4.30" fill="#ebebeb"/><rect x="296.35" y="383.90" width="0.65" height="4.30" fill="#eeeeee"/><rect x="297.00" y="383.90" width="1.14" height="4.30" fill="#e6e6e6"/><rect x="298.15" y="383.90" width="1.19" height="4.30" fill="#f1f1f1"/><rect x="299.34" y="383.90" width="1.14" height="4.30" fill="#afafaf"/><rect x="300.48" y="383.90" width="0.97" height="4.30" fill="#dcdcdc"/><rect x="301.44" y="383.90" width="0.89" height="4.30" fill="#dfdfdf"/><rect x="302.33" y="383.90" width="1.08" height="4.30" fill="#e2e2e2"/><rect x="303.41" y="383.90" width="1.22" height="4.30" fill="#e2e2e2"/><rect x="304.63" y="383.90" width="1.19" height="4.30" fill="#808080"/><rect x="305.82" y="383.90" width="1.24" height="4.30" fill="#dbdbdb"/><rect x="307.06" y="383.90" width="0.95" height="4.30" fill="#d9d9d9"/><rect x="308.01" y="383.90" width="0.86" height="4.30" fill="#d5d5d5"/><rect x="308.86" y="383.90" width="0.95" height="4.30" fill="#f7f7f7"/><rect x="309.82" y="383.90" width="0.87" height="4.30" fill="#d8d8d8"/><rect x="310.68" y="383.90" width="0.96" height="4.30" fill="#f9f9f9"/><rect x="311.65" y="383.90" width="1.02" height="4.30" fill="#d6d6d6"/><rect x="312.67" y="383.90" width="1.27" height="4.30" fill="#6b6b6b"/><rect x="313.94" y="383.90" width="1.25" height="4.30" fill="#9b9b9b"/><rect x="315.19" y="383.90" width="0.88" height="4.30" fill="#f6f6f6"/><rect x="316.06" y="383.90" width="1.24" height="4.30" fill="#999999"/><rect x="317.30" y="383.90" width="0.93" height="4.30" fill="#e0e0e0"/><rect x="318.23" y="383.90" width="1.34" height="4.30" fill="#e3e3e3"/><rect x="319.57" y="383.90" width="1.35" height="4.30" fill="#b4b4b4"/><rect x="320.92" y="383.90" width="0.95" height="4.30" fill="#fefefe"/><rect x="321.87" y="383.90" width="0.78" height="4.30" fill="#fbfbfb"/><rect x="322.65" y="383.90" width="1.13" height="4.30" fill="#f7f7f7"/><rect x="323.78" y="383.90" width="0.87" height="4.30" fill="#dedede"/><rect x="324.65" y="383.90" width="1.07" height="4.30" fill="#d4d4d4"/><rect x="325.72" y="383.90" width="0.64" height="4.30" fill="#f6f6f6"/><rect x="326.36" y="383.90" width="1.34" height="4.30" fill="#f0f0f0"/><rect x="327.70" y="383.90" width="1.06" height="4.30" fill="#fafafa"/><rect x="328.76" y="383.90" width="0.74" height="4.30" fill="#707070"/><rect x="329.50" y="383.90" width="1.02" height="4.30" fill="#efefef"/><rect x="330.52" y="383.90" width="1.09" height="4.30" fill="#fcfcfc"/><rect x="331.61" y="383.90" width="1.29" height="4.30" fill="#dcdcdc"/><rect x="332.89" y="383.90" width="0.88" height="4.30" fill="#f5f5f5"/><rect x="333.78" y="383.90" width="1.25" height="4.30" fill="#838383"/><rect x="335.03" y="383.90" width="1.34" height="4.30" fill="#6c6c6c"/><rect x="336.37" y="383.90" width="0.61" height="4.30" fill="#f6f6f6"/><rect x="336.97" y="383.90" width="0.64" height="4.30" fill="#f8f8f8"/><rect x="337.61" y="383.90" width="1.02" height="4.30" fill="#dddddd"/><rect x="338.63" y="383.90" width="1.22" height="4.30" fill="#e6e6e6"/><rect x="339.86" y="383.90" width="0.70" height="4.30" fill="#afafaf"/><rect x="340.56" y="383.90" width="1.38" height="4.30" fill="#aeaeae"/><rect x="341.94" y="383.90" width="1.00" height="4.30" fill="#d5d5d5"/><rect x="342.94" y="383.90" width="0.88" height="4.30" fill="#dfdfdf"/><rect x="343.82" y="383.90" width="0.89" height="4.30" fill="#ececec"/><rect x="344.71" y="383.90" width="0.70" height="4.30" fill="#969696"/><rect x="345.41" y="383.90" width="0.90" height="4.30" fill="#f1f1f1"/><rect x="346.31" y="383.90" width="0.90" height="4.30" fill="#a4a4a4"/><rect x="347.21" y="383.90" width="0.90" height="4.30" fill="#f5f5f5"/><rect x="348.11" y="383.90" width="0.95" height="4.30" fill="#ededed"/><rect x="349.06" y="383.90" width="1.16" height="4.30" fill="#e7e7e7"/><rect x="350.22" y="383.90" width="0.97" height="4.30" fill="#f0f0f0"/><rect x="351.19" y="383.90" width="1.16" height="4.30" fill="#e9e9e9"/><rect x="352.35" y="383.90" width="0.94" height="4.30" fill="#8d8d8d"/><rect x="353.29" y="383.90" width="0.90" height="4.30" fill="#fcfcfc"/><rect x="354.19" y="383.90" width="0.81" height="4.30" fill="#f5f5f5"/><rect x="355.00" y="383.90" width="1.25" height="4.30" fill="#d6d6d6"/><rect x="356.25" y="383.90" width="1.23" height="4.30" fill="#f9f9f9"/><rect x="357.48" y="383.90" width="1.05" height="4.30" fill="#f2f2f2"/><rect x="358.53" y="383.90" width="0.60" height="4.30" fill="#7f7f7f"/><rect x="359.14" y="383.90" width="0.64" height="4.30" fill="#6e6e6e"/><rect x="359.77" y="383.90" width="1.30" height="4.30" fill="#ababab"/><rect x="361.08" y="383.90" width="1.27" height="4.30" fill="#b2b2b2"/><rect x="362.35" y="383.90" width="1.14" height="4.30" fill="#676767"/><rect x="363.49" y="383.90" width="1.06" height="4.30" fill="#fcfcfc"/><rect x="364.55" y="383.90" width="1.21" height="4.30" fill="#d2d2d2"/><rect x="365.77" y="383.90" width="0.69" height="4.30" fill="#f1f1f1"/><rect x="366.45" y="383.90" width="0.65" height="4.30" fill="#fbfbfb"/><rect x="367.10" y="383.90" width="1.26" height="4.30" fill="#eaeaea"/>
<defs><linearGradient id="band3" x1="0" y1="0" x2="1" y2="0"><stop offset="0" stop-color="#b00a0a"/><stop offset="0.035" stop-color="#d04848"/><stop offset="0.11" stop-color="#eba8a8"/><stop offset="0.26" stop-color="#fadcdc"/><stop offset="0.40" stop-color="#ffffff"/><stop offset="0.66" stop-color="#ffffff"/><stop offset="0.68" stop-color="#ececfc"/><stop offset="0.87" stop-color="#cdcdf5"/><stop offset="0.94" stop-color="#7070dc"/><stop offset="1" stop-color="#1414b0"/></linearGradient></defs>
<rect x="255.40" y="388.20" width="112.40" height="4.10" fill="url(#band3)"/>
<text x="256.60" y="391.48" font-size="4.305000000000024" fill="#4a0808" textLength="12.36" lengthAdjust="spacingAndGlyphs">Positive</text>
<rect x="293.05" y="388.50" width="37.09" height="3.50" fill="#ffffff"/>
<text x="311.60" y="391.48" font-size="4.305000000000024" text-anchor="middle" fill="#222" textLength="33.72" lengthAdjust="spacingAndGlyphs">miR-146a   vs. WT</text>
<text x="367.00" y="391.48" font-size="4.305000000000024" text-anchor="end" fill="#0a0a3a" textLength="13.49" lengthAdjust="spacingAndGlyphs">Negative</text>
<line x1="258.40" y1="395.13" x2="328.46" y2="395.45" stroke="#c8c8c8" stroke-width="0.6"/>
<line x1="322.84" y1="395.77" x2="364.80" y2="395.77" stroke="#e0e0e0" stroke-width="0.5"/>
<path d="M255.50,382.30 L256.00,372.00 L256.40,366.00 L257.40,357.60 L258.80,351.80 L260.30,350.40 L261.70,346.80 L263.90,343.90 L266.00,340.30 L268.20,338.60 L270.40,337.70 L272.50,338.30 L276.80,338.90 L320.80,359.60 L347.70,372.00 L365.20,380.50 L367.60,382.00" fill="none" stroke="#f0605a" stroke-width="0.7" stroke-linejoin="round"/>
<rect x="255.40" y="336.40" width="112.40" height="62.20" fill="none" stroke="#111" stroke-width="1.2"/>
<line x1="252.00" y1="382.30" x2="255.40" y2="382.30" stroke="#222" stroke-width="0.8"/>
<text x="249.20" y="384.00" font-size="5.0" text-anchor="end" fill="#3a3a3a">0.0</text>
<line x1="252.00" y1="370.70" x2="255.40" y2="370.70" stroke="#222" stroke-width="0.8"/>
<text x="249.20" y="372.40" font-size="5.0" text-anchor="end" fill="#3a3a3a">0.2</text>
<line x1="252.00" y1="359.10" x2="255.40" y2="359.10" stroke="#222" stroke-width="0.8"/>
<text x="249.20" y="360.80" font-size="5.0" text-anchor="end" fill="#3a3a3a">0.4</text>
<line x1="252.00" y1="347.50" x2="255.40" y2="347.50" stroke="#222" stroke-width="0.8"/>
<text x="249.20" y="349.20" font-size="5.0" text-anchor="end" fill="#3a3a3a">0.6</text>
<rect x="252.20" y="392.50" width="3.20" height="6.10" fill="#8a8a8a" stroke="#444" stroke-width="0.4"/>
<text x="250.60" y="395.06" font-size="4.75" text-anchor="end" fill="#3a3a3a">2</text>
<text x="250.60" y="399.20" font-size="4.75" text-anchor="end" fill="#3a3a3a">-4</text>
<line x1="255.40" y1="398.60" x2="255.40" y2="400.80" stroke="#111" stroke-width="0.8"/>
<text x="255.40" y="409.30" font-size="5.0" text-anchor="middle" fill="#3a3a3a">0</text>
<line x1="272.85" y1="398.60" x2="272.85" y2="400.80" stroke="#111" stroke-width="0.8"/>
<text x="272.85" y="409.30" font-size="5.0" text-anchor="middle" fill="#3a3a3a" textLength="9.80" lengthAdjust="spacingAndGlyphs">2000</text>
<line x1="290.30" y1="398.60" x2="290.30" y2="400.80" stroke="#111" stroke-width="0.8"/>
<text x="290.30" y="409.30" font-size="5.0" text-anchor="middle" fill="#3a3a3a" textLength="9.80" lengthAdjust="spacingAndGlyphs">4000</text>
<line x1="307.75" y1="398.60" x2="307.75" y2="400.80" stroke="#111" stroke-width="0.8"/>
<text x="307.75" y="409.30" font-size="5.0" text-anchor="middle" fill="#3a3a3a" textLength="9.80" lengthAdjust="spacingAndGlyphs">6000</text>
<line x1="325.20" y1="398.60" x2="325.20" y2="400.80" stroke="#111" stroke-width="0.8"/>
<text x="325.20" y="409.30" font-size="5.0" text-anchor="middle" fill="#3a3a3a" textLength="9.80" lengthAdjust="spacingAndGlyphs">8000</text>
<line x1="342.65" y1="398.60" x2="342.65" y2="400.80" stroke="#111" stroke-width="0.8"/>
<text x="342.65" y="409.30" font-size="5.0" text-anchor="middle" fill="#3a3a3a" textLength="12.25" lengthAdjust="spacingAndGlyphs">10000</text>
<line x1="360.10" y1="398.60" x2="360.10" y2="400.80" stroke="#111" stroke-width="0.8"/>
<text x="360.10" y="409.30" font-size="5.0" text-anchor="middle" fill="#3a3a3a" textLength="12.25" lengthAdjust="spacingAndGlyphs">12000</text>
<text x="310.90" y="332.40" font-size="6.0" text-anchor="middle" textLength="58.30" lengthAdjust="spacingAndGlyphs">TNF signaling via NFKB</text>
<text x="365.40" y="341.60" font-size="5.5" text-anchor="end">NES: 2.9513</text>
<text x="365.40" y="347.95" font-size="5.5" text-anchor="end">Nominal p-value: 0</text>
<text x="365.40" y="354.30" font-size="5.5" text-anchor="end">FDR: 0</text>
<text x="239.30" y="365.00" font-size="7.0" text-anchor="middle" fill="#333" transform="rotate(-90 239.30 365.00)">ES</text>
<text x="239.30" y="396.80" font-size="6.8" text-anchor="middle" fill="#333" transform="rotate(-90 239.30 396.80)">S/N</text>
<text x="311.60" y="417.80" font-size="6.0" text-anchor="middle" fill="#333" textLength="47.50" lengthAdjust="spacingAndGlyphs">Rank in ordered gene list</text>
<line x1="398.50" y1="381.20" x2="512.20" y2="381.20" stroke="#d4d4d4" stroke-width="0.5"/>
<line x1="398.50" y1="372.80" x2="512.20" y2="372.80" stroke="#f0f0f0" stroke-width="0.5"/>
<line x1="398.50" y1="364.40" x2="512.20" y2="364.40" stroke="#f0f0f0" stroke-width="0.5"/>
<line x1="398.50" y1="356.00" x2="512.20" y2="356.00" stroke="#f0f0f0" stroke-width="0.5"/>
<line x1="398.50" y1="347.60" x2="512.20" y2="347.60" stroke="#f0f0f0" stroke-width="0.5"/>
<line x1="398.50" y1="339.20" x2="512.20" y2="339.20" stroke="#f0f0f0" stroke-width="0.5"/>
<rect x="398.50" y="383.00" width="113.70" height="4.00" fill="#ececec"/>
<rect x="398.90" y="383.00" width="1.24" height="4.00" fill="#404040"/><rect x="400.14" y="383.00" width="1.34" height="4.00" fill="#f3f3f3"/><rect x="401.47" y="383.00" width="1.35" height="4.00" fill="#646464"/><rect x="402.83" y="383.00" width="0.69" height="4.00" fill="#323232"/><rect x="403.52" y="383.00" width="1.04" height="4.00" fill="#808080"/><rect x="404.55" y="383.00" width="0.77" height="4.00" fill="#9d9d9d"/><rect x="405.33" y="383.00" width="1.21" height="4.00" fill="#343434"/><rect x="406.54" y="383.00" width="0.71" height="4.00" fill="#434343"/><rect x="407.25" y="383.00" width="0.60" height="4.00" fill="#d6d6d6"/><rect x="407.85" y="383.00" width="0.77" height="4.00" fill="#dadada"/><rect x="408.63" y="383.00" width="0.83" height="4.00" fill="#f9f9f9"/><rect x="409.46" y="383.00" width="1.14" height="4.00" fill="#e9e9e9"/><rect x="410.60" y="383.00" width="1.15" height="4.00" fill="#393939"/><rect x="411.75" y="383.00" width="0.84" height="4.00" fill="#fafafa"/><rect x="412.59" y="383.00" width="0.72" height="4.00" fill="#919191"/><rect x="413.31" y="383.00" width="1.08" height="4.00" fill="#838383"/><rect x="414.39" y="383.00" width="0.87" height="4.00" fill="#5b5b5b"/><rect x="415.26" y="383.00" width="0.98" height="4.00" fill="#4d4d4d"/><rect x="416.24" y="383.00" width="1.16" height="4.00" fill="#727272"/><rect x="417.41" y="383.00" width="0.62" height="4.00" fill="#3f3f3f"/><rect x="418.03" y="383.00" width="0.61" height="4.00" fill="#f7f7f7"/><rect x="418.64" y="383.00" width="1.06" height="4.00" fill="#e1e1e1"/><rect x="419.70" y="383.00" width="0.74" height="4.00" fill="#a4a4a4"/><rect x="420.45" y="383.00" width="1.20" height="4.00" fill="#dadada"/><rect x="421.65" y="383.00" width="0.88" height="4.00" fill="#fcfcfc"/><rect x="422.53" y="383.00" width="1.22" height="4.00" fill="#757575"/><rect x="423.75" y="383.00" width="1.24" height="4.00" fill="#5f5f5f"/><rect x="424.99" y="383.00" width="1.36" height="4.00" fill="#d2d2d2"/><rect x="426.34" y="383.00" width="1.09" height="4.00" fill="#8b8b8b"/><rect x="427.43" y="383.00" width="1.34" height="4.00" fill="#e0e0e0"/><rect x="428.77" y="383.00" width="0.85" height="4.00" fill="#dfdfdf"/><rect x="429.62" y="383.00" width="0.72" height="4.00" fill="#a8a8a8"/><rect x="430.34" y="383.00" width="0.73" height="4.00" fill="#fefefe"/><rect x="431.07" y="383.00" width="1.03" height="4.00" fill="#525252"/><rect x="432.10" y="383.00" width="1.08" height="4.00" fill="#dbdbdb"/><rect x="433.18" y="383.00" width="0.94" height="4.00" fill="#e6e6e6"/><rect x="434.11" y="383.00" width="0.63" height="4.00" fill="#5d5d5d"/><rect x="434.74" y="383.00" width="0.70" height="4.00" fill="#f7f7f7"/><rect x="435.44" y="383.00" width="1.10" height="4.00" fill="#fcfcfc"/><rect x="436.55" y="383.00" width="0.95" height="4.00" fill="#d5d5d5"/><rect x="437.50" y="383.00" width="0.84" height="4.00" fill="#676767"/><rect x="438.33" y="383.00" width="1.28" height="4.00" fill="#fefefe"/><rect x="439.61" y="383.00" width="0.99" height="4.00" fill="#e5e5e5"/><rect x="440.60" y="383.00" width="0.83" height="4.00" fill="#e7e7e7"/><rect x="441.44" y="383.00" width="0.90" height="4.00" fill="#d7d7d7"/><rect x="442.34" y="383.00" width="1.10" height="4.00" fill="#fdfdfd"/><rect x="443.44" y="383.00" width="0.67" height="4.00" fill="#e0e0e0"/><rect x="444.11" y="383.00" width="1.29" height="4.00" fill="#f4f4f4"/><rect x="445.40" y="383.00" width="1.22" height="4.00" fill="#f5f5f5"/><rect x="446.62" y="383.00" width="1.21" height="4.00" fill="#efefef"/><rect x="447.83" y="383.00" width="0.82" height="4.00" fill="#f1f1f1"/><rect x="448.66" y="383.00" width="1.15" height="4.00" fill="#f4f4f4"/><rect x="449.81" y="383.00" width="1.12" height="4.00" fill="#fcfcfc"/><rect x="450.93" y="383.00" width="1.04" height="4.00" fill="#d1d1d1"/><rect x="451.97" y="383.00" width="0.97" height="4.00" fill="#efefef"/><rect x="452.94" y="383.00" width="1.24" height="4.00" fill="#eeeeee"/><rect x="454.18" y="383.00" width="1.19" height="4.00" fill="#eeeeee"/><rect x="455.37" y="383.00" width="1.27" height="4.00" fill="#e1e1e1"/><rect x="456.64" y="383.00" width="1.38" height="4.00" fill="#f0f0f0"/><rect x="458.02" y="383.00" width="1.02" height="4.00" fill="#e8e8e8"/><rect x="459.04" y="383.00" width="1.35" height="4.00" fill="#686868"/><rect x="460.39" y="383.00" width="1.18" height="4.00" fill="#f0f0f0"/><rect x="461.57" y="383.00" width="1.22" height="4.00" fill="#d8d8d8"/><rect x="462.79" y="383.00" width="0.94" height="4.00" fill="#efefef"/><rect x="463.73" y="383.00" width="1.11" height="4.00" fill="#f4f4f4"/><rect x="464.84" y="383.00" width="0.73" height="4.00" fill="#d2d2d2"/><rect x="465.57" y="383.00" width="0.78" height="4.00" fill="#eeeeee"/><rect x="466.34" y="383.00" width="0.63" height="4.00" fill="#eeeeee"/><rect x="466.98" y="383.00" width="0.64" height="4.00" fill="#dbdbdb"/><rect x="467.62" y="383.00" width="0.75" height="4.00" fill="#979797"/><rect x="468.37" y="383.00" width="0.97" height="4.00" fill="#b1b1b1"/><rect x="469.34" y="383.00" width="1.07" height="4.00" fill="#ededed"/><rect x="470.41" y="383.00" width="0.60" height="4.00" fill="#fafafa"/><rect x="471.01" y="383.00" width="0.93" height="4.00" fill="#dddddd"/><rect x="471.94" y="383.00" width="0.90" height="4.00" fill="#686868"/><rect x="472.84" y="383.00" width="0.68" height="4.00" fill="#7c7c7c"/><rect x="473.51" y="383.00" width="1.06" height="4.00" fill="#e0e0e0"/><rect x="474.58" y="383.00" width="0.94" height="4.00" fill="#f6f6f6"/><rect x="475.51" y="383.00" width="0.90" height="4.00" fill="#eeeeee"/><rect x="476.41" y="383.00" width="1.05" height="4.00" fill="#7e7e7e"/><rect x="477.46" y="383.00" width="1.09" height="4.00" fill="#fdfdfd"/><rect x="478.55" y="383.00" width="0.60" height="4.00" fill="#fafafa"/><rect x="479.15" y="383.00" width="1.09" height="4.00" fill="#818181"/><rect x="480.24" y="383.00" width="1.31" height="4.00" fill="#7b7b7b"/><rect x="481.55" y="383.00" width="0.78" height="4.00" fill="#e4e4e4"/><rect x="482.33" y="383.00" width="0.90" height="4.00" fill="#fdfdfd"/><rect x="483.24" y="383.00" width="1.08" height="4.00" fill="#fbfbfb"/><rect x="484.31" y="383.00" width="1.00" height="4.00" fill="#fefefe"/><rect x="485.31" y="383.00" width="1.39" height="4.00" fill="#dfdfdf"/><rect x="486.70" y="383.00" width="0.98" height="4.00" fill="#dedede"/><rect x="487.68" y="383.00" width="0.95" height="4.00" fill="#7b7b7b"/><rect x="488.64" y="383.00" width="1.26" height="4.00" fill="#f4f4f4"/><rect x="489.90" y="383.00" width="0.82" height="4.00" fill="#848484"/><rect x="490.72" y="383.00" width="0.80" height="4.00" fill="#f4f4f4"/><rect x="491.51" y="383.00" width="1.39" height="4.00" fill="#d8d8d8"/><rect x="492.90" y="383.00" width="0.98" height="4.00" fill="#ededed"/><rect x="493.88" y="383.00" width="1.19" height="4.00" fill="#ececec"/><rect x="495.08" y="383.00" width="0.84" height="4.00" fill="#6f6f6f"/><rect x="495.92" y="383.00" width="0.84" height="4.00" fill="#e0e0e0"/><rect x="496.76" y="383.00" width="0.89" height="4.00" fill="#e6e6e6"/><rect x="497.64" y="383.00" width="0.63" height="4.00" fill="#ececec"/><rect x="498.27" y="383.00" width="1.33" height="4.00" fill="#e6e6e6"/><rect x="499.61" y="383.00" width="0.61" height="4.00" fill="#eaeaea"/><rect x="500.22" y="383.00" width="1.06" height="4.00" fill="#e4e4e4"/><rect x="501.28" y="383.00" width="0.99" height="4.00" fill="#eeeeee"/><rect x="502.26" y="383.00" width="0.91" height="4.00" fill="#e2e2e2"/><rect x="503.18" y="383.00" width="0.84" height="4.00" fill="#dadada"/><rect x="504.02" y="383.00" width="1.27" height="4.00" fill="#d4d4d4"/><rect x="505.28" y="383.00" width="0.83" height="4.00" fill="#e4e4e4"/><rect x="506.11" y="383.00" width="0.71" height="4.00" fill="#fafafa"/><rect x="506.83" y="383.00" width="1.00" height="4.00" fill="#eaeaea"/><rect x="507.83" y="383.00" width="1.07" height="4.00" fill="#d8d8d8"/><rect x="508.89" y="383.00" width="0.78" height="4.00" fill="#d4d4d4"/><rect x="509.68" y="383.00" width="1.13" height="4.00" fill="#f5f5f5"/><rect x="510.81" y="383.00" width="1.38" height="4.00" fill="#727272"/>
<defs><linearGradient id="band5" x1="0" y1="0" x2="1" y2="0"><stop offset="0" stop-color="#b00a0a"/><stop offset="0.035" stop-color="#d04848"/><stop offset="0.11" stop-color="#eba8a8"/><stop offset="0.26" stop-color="#fadcdc"/><stop offset="0.40" stop-color="#ffffff"/><stop offset="0.66" stop-color="#ffffff"/><stop offset="0.68" stop-color="#ececfc"/><stop offset="0.87" stop-color="#cdcdf5"/><stop offset="0.94" stop-color="#7070dc"/><stop offset="1" stop-color="#1414b0"/></linearGradient></defs>
<rect x="398.50" y="387.00" width="113.70" height="3.90" fill="url(#band5)"/>
<text x="399.70" y="390.12" font-size="4.094999999999977" fill="#4a0808" textLength="12.51" lengthAdjust="spacingAndGlyphs">Positive</text>
<rect x="436.59" y="387.30" width="37.52" height="3.30" fill="#ffffff"/>
<text x="455.35" y="390.12" font-size="4.094999999999977" text-anchor="middle" fill="#222" textLength="34.11" lengthAdjust="spacingAndGlyphs">miR-146a   vs. WT</text>
<text x="511.40" y="390.12" font-size="4.094999999999977" text-anchor="end" fill="#0a0a3a" textLength="13.64" lengthAdjust="spacingAndGlyphs">Negative</text>
<line x1="401.50" y1="394.81" x2="472.41" y2="395.25" stroke="#c8c8c8" stroke-width="0.6"/>
<line x1="466.72" y1="395.69" x2="509.20" y2="395.69" stroke="#e0e0e0" stroke-width="0.5"/>
<path d="M398.60,381.20 L398.80,377.70 L400.00,370.00 L401.00,366.20 L402.50,360.00 L403.90,356.10 L406.00,351.00 L408.00,346.50 L409.60,343.10 L412.50,339.50 L416.80,338.00 L420.90,336.60 L424.80,338.00 L428.00,338.50 L432.70,338.80 L436.00,340.00 L440.00,342.40 L445.00,346.00 L450.00,349.60 L459.40,354.60 L473.90,363.30 L488.30,373.40 L495.00,375.50 L502.70,377.00 L506.00,378.20 L508.50,378.40 L510.00,377.80 L512.00,380.50" fill="none" stroke="#f0605a" stroke-width="0.7" stroke-linejoin="round"/>
<rect x="398.50" y="334.70" width="113.70" height="64.90" fill="none" stroke="#111" stroke-width="1.2"/>
<line x1="395.10" y1="381.20" x2="398.50" y2="381.20" stroke="#222" stroke-width="0.8"/>
<text x="392.30" y="382.90" font-size="5.0" text-anchor="end" fill="#3a3a3a">0.0</text>
<line x1="395.10" y1="372.80" x2="398.50" y2="372.80" stroke="#222" stroke-width="0.8"/>
<text x="392.30" y="374.50" font-size="5.0" text-anchor="end" fill="#3a3a3a">0.1</text>
<line x1="395.10" y1="364.40" x2="398.50" y2="364.40" stroke="#222" stroke-width="0.8"/>
<text x="392.30" y="366.10" font-size="5.0" text-anchor="end" fill="#3a3a3a">0.2</text>
<line x1="395.10" y1="356.00" x2="398.50" y2="356.00" stroke="#222" stroke-width="0.8"/>
<text x="392.30" y="357.70" font-size="5.0" text-anchor="end" fill="#3a3a3a">0.3</text>
<line x1="395.10" y1="347.60" x2="398.50" y2="347.60" stroke="#222" stroke-width="0.8"/>
<text x="392.30" y="349.30" font-size="5.0" text-anchor="end" fill="#3a3a3a">0.4</text>
<line x1="395.10" y1="339.20" x2="398.50" y2="339.20" stroke="#222" stroke-width="0.8"/>
<text x="392.30" y="340.90" font-size="5.0" text-anchor="end" fill="#3a3a3a">0.5</text>
<rect x="395.30" y="391.10" width="3.20" height="8.50" fill="#8a8a8a" stroke="#444" stroke-width="0.4"/>
<text x="393.70" y="394.67" font-size="4.75" text-anchor="end" fill="#3a3a3a">4</text>
<text x="393.70" y="400.20" font-size="4.75" text-anchor="end" fill="#3a3a3a">-4</text>
<line x1="398.50" y1="399.60" x2="398.50" y2="401.80" stroke="#111" stroke-width="0.8"/>
<text x="398.50" y="409.30" font-size="5.0" text-anchor="middle" fill="#3a3a3a">0</text>
<line x1="416.00" y1="399.60" x2="416.00" y2="401.80" stroke="#111" stroke-width="0.8"/>
<text x="416.00" y="409.30" font-size="5.0" text-anchor="middle" fill="#3a3a3a" textLength="9.80" lengthAdjust="spacingAndGlyphs">2000</text>
<line x1="433.50" y1="399.60" x2="433.50" y2="401.80" stroke="#111" stroke-width="0.8"/>
<text x="433.50" y="409.30" font-size="5.0" text-anchor="middle" fill="#3a3a3a" textLength="9.80" lengthAdjust="spacingAndGlyphs">4000</text>
<line x1="451.00" y1="399.60" x2="451.00" y2="401.80" stroke="#111" stroke-width="0.8"/>
<text x="451.00" y="409.30" font-size="5.0" text-anchor="middle" fill="#3a3a3a" textLength="9.80" lengthAdjust="spacingAndGlyphs">6000</text>
<line x1="468.50" y1="399.60" x2="468.50" y2="401.80" stroke="#111" stroke-width="0.8"/>
<text x="468.50" y="409.30" font-size="5.0" text-anchor="middle" fill="#3a3a3a" textLength="9.80" lengthAdjust="spacingAndGlyphs">8000</text>
<line x1="486.00" y1="399.60" x2="486.00" y2="401.80" stroke="#111" stroke-width="0.8"/>
<text x="486.00" y="409.30" font-size="5.0" text-anchor="middle" fill="#3a3a3a" textLength="12.25" lengthAdjust="spacingAndGlyphs">10000</text>
<line x1="503.50" y1="399.60" x2="503.50" y2="401.80" stroke="#111" stroke-width="0.8"/>
<text x="503.50" y="409.30" font-size="5.0" text-anchor="middle" fill="#3a3a3a" textLength="12.25" lengthAdjust="spacingAndGlyphs">12000</text>
<text x="455.20" y="330.90" font-size="6.0" text-anchor="middle" textLength="37.20" lengthAdjust="spacingAndGlyphs">IFNg Response</text>
<text x="510.70" y="340.10" font-size="5.0" text-anchor="end">NES: 2.0595</text>
<text x="510.70" y="345.95" font-size="5.0" text-anchor="end">Nominal p-value: 0</text>
<text x="510.70" y="351.80" font-size="5.0" text-anchor="end">FDR: 0</text>
<text x="382.00" y="360.50" font-size="7.0" text-anchor="middle" fill="#333" transform="rotate(-90 382.00 360.50)">ES</text>
<text x="382.50" y="395.00" font-size="6.8" text-anchor="middle" fill="#333" transform="rotate(-90 382.50 395.00)">S/N</text>
<text x="455.50" y="417.80" font-size="6.0" text-anchor="middle" fill="#333" textLength="47.50" lengthAdjust="spacingAndGlyphs">Rank in ordered gene list</text>
<line x1="255.20" y1="483.20" x2="367.30" y2="483.20" stroke="#d4d4d4" stroke-width="0.5"/>
<line x1="255.20" y1="475.83" x2="367.30" y2="475.83" stroke="#f0f0f0" stroke-width="0.5"/>
<line x1="255.20" y1="468.46" x2="367.30" y2="468.46" stroke="#f0f0f0" stroke-width="0.5"/>
<line x1="255.20" y1="461.09" x2="367.30" y2="461.09" stroke="#f0f0f0" stroke-width="0.5"/>
<line x1="255.20" y1="453.72" x2="367.30" y2="453.72" stroke="#f0f0f0" stroke-width="0.5"/>
<line x1="255.20" y1="446.35" x2="367.30" y2="446.35" stroke="#f0f0f0" stroke-width="0.5"/>
<line x1="255.20" y1="438.98" x2="367.30" y2="438.98" stroke="#f0f0f0" stroke-width="0.5"/>
<rect x="255.20" y="484.90" width="112.10" height="4.00" fill="#ececec"/>
<rect x="255.60" y="484.90" width="1.12" height="4.00" fill="#888888"/><rect x="256.72" y="484.90" width="0.89" height="4.00" fill="#5a5a5a"/><rect x="257.61" y="484.90" width="0.63" height="4.00" fill="#5f5f5f"/><rect x="258.24" y="484.90" width="0.67" height="4.00" fill="#949494"/><rect x="258.92" y="484.90" width="0.70" height="4.00" fill="#3a3a3a"/><rect x="259.61" y="484.90" width="1.36" height="4.00" fill="#535353"/><rect x="260.97" y="484.90" width="1.38" height="4.00" fill="#707070"/><rect x="262.35" y="484.90" width="0.83" height="4.00" fill="#3b3b3b"/><rect x="263.19" y="484.90" width="0.85" height="4.00" fill="#929292"/><rect x="264.03" y="484.90" width="1.07" height="4.00" fill="#d9d9d9"/><rect x="265.10" y="484.90" width="1.04" height="4.00" fill="#e2e2e2"/><rect x="266.14" y="484.90" width="0.76" height="4.00" fill="#9b9b9b"/><rect x="266.90" y="484.90" width="0.85" height="4.00" fill="#e4e4e4"/><rect x="267.75" y="484.90" width="0.84" height="4.00" fill="#e5e5e5"/><rect x="268.59" y="484.90" width="0.80" height="4.00" fill="#f1f1f1"/><rect x="269.39" y="484.90" width="1.30" height="4.00" fill="#e9e9e9"/><rect x="270.69" y="484.90" width="1.38" height="4.00" fill="#dedede"/><rect x="272.07" y="484.90" width="1.21" height="4.00" fill="#797979"/><rect x="273.28" y="484.90" width="0.63" height="4.00" fill="#727272"/><rect x="273.91" y="484.90" width="1.06" height="4.00" fill="#f4f4f4"/><rect x="274.97" y="484.90" width="1.16" height="4.00" fill="#dfdfdf"/><rect x="276.12" y="484.90" width="0.96" height="4.00" fill="#ebebeb"/><rect x="277.09" y="484.90" width="0.98" height="4.00" fill="#fcfcfc"/><rect x="278.07" y="484.90" width="1.16" height="4.00" fill="#d3d3d3"/><rect x="279.23" y="484.90" width="1.26" height="4.00" fill="#fefefe"/><rect x="280.49" y="484.90" width="1.13" height="4.00" fill="#858585"/><rect x="281.62" y="484.90" width="0.73" height="4.00" fill="#7e7e7e"/><rect x="282.36" y="484.90" width="1.21" height="4.00" fill="#a7a7a7"/><rect x="283.57" y="484.90" width="0.91" height="4.00" fill="#959595"/><rect x="284.48" y="484.90" width="0.96" height="4.00" fill="#d4d4d4"/><rect x="285.44" y="484.90" width="1.26" height="4.00" fill="#f9f9f9"/><rect x="286.70" y="484.90" width="0.93" height="4.00" fill="#dddddd"/><rect x="287.63" y="484.90" width="1.37" height="4.00" fill="#f9f9f9"/><rect x="289.00" y="484.90" width="0.79" height="4.00" fill="#a1a1a1"/><rect x="289.78" y="484.90" width="1.07" height="4.00" fill="#858585"/><rect x="290.85" y="484.90" width="0.94" height="4.00" fill="#d1d1d1"/><rect x="291.79" y="484.90" width="1.36" height="4.00" fill="#ebebeb"/><rect x="293.15" y="484.90" width="1.09" height="4.00" fill="#e8e8e8"/><rect x="294.24" y="484.90" width="1.32" height="4.00" fill="#d3d3d3"/><rect x="295.56" y="484.90" width="1.24" height="4.00" fill="#f9f9f9"/><rect x="296.80" y="484.90" width="0.68" height="4.00" fill="#e3e3e3"/><rect x="297.49" y="484.90" width="0.65" height="4.00" fill="#d3d3d3"/><rect x="298.14" y="484.90" width="0.87" height="4.00" fill="#a5a5a5"/><rect x="299.01" y="484.90" width="0.72" height="4.00" fill="#b4b4b4"/><rect x="299.73" y="484.90" width="0.62" height="4.00" fill="#939393"/><rect x="300.35" y="484.90" width="0.72" height="4.00" fill="#ededed"/><rect x="301.07" y="484.90" width="0.89" height="4.00" fill="#e1e1e1"/><rect x="301.96" y="484.90" width="1.39" height="4.00" fill="#676767"/><rect x="303.36" y="484.90" width="0.67" height="4.00" fill="#e7e7e7"/><rect x="304.03" y="484.90" width="0.81" height="4.00" fill="#959595"/><rect x="304.84" y="484.90" width="0.62" height="4.00" fill="#d8d8d8"/><rect x="305.46" y="484.90" width="0.72" height="4.00" fill="#e9e9e9"/><rect x="306.17" y="484.90" width="1.02" height="4.00" fill="#d2d2d2"/><rect x="307.20" y="484.90" width="1.16" height="4.00" fill="#f8f8f8"/><rect x="308.35" y="484.90" width="0.73" height="4.00" fill="#e1e1e1"/><rect x="309.09" y="484.90" width="1.22" height="4.00" fill="#e9e9e9"/><rect x="310.31" y="484.90" width="1.25" height="4.00" fill="#dbdbdb"/><rect x="311.56" y="484.90" width="1.24" height="4.00" fill="#f8f8f8"/><rect x="312.80" y="484.90" width="0.78" height="4.00" fill="#f3f3f3"/><rect x="313.59" y="484.90" width="0.62" height="4.00" fill="#e1e1e1"/><rect x="314.21" y="484.90" width="0.81" height="4.00" fill="#9b9b9b"/><rect x="315.02" y="484.90" width="0.96" height="4.00" fill="#fdfdfd"/><rect x="315.97" y="484.90" width="1.36" height="4.00" fill="#fefefe"/><rect x="317.34" y="484.90" width="0.78" height="4.00" fill="#dbdbdb"/><rect x="318.12" y="484.90" width="1.10" height="4.00" fill="#a1a1a1"/><rect x="319.22" y="484.90" width="0.98" height="4.00" fill="#f7f7f7"/><rect x="320.20" y="484.90" width="0.67" height="4.00" fill="#f5f5f5"/><rect x="320.87" y="484.90" width="1.23" height="4.00" fill="#fafafa"/><rect x="322.10" y="484.90" width="0.74" height="4.00" fill="#e7e7e7"/><rect x="322.84" y="484.90" width="1.24" height="4.00" fill="#e0e0e0"/><rect x="324.08" y="484.90" width="0.92" height="4.00" fill="#e3e3e3"/><rect x="325.00" y="484.90" width="0.74" height="4.00" fill="#f2f2f2"/><rect x="325.74" y="484.90" width="1.32" height="4.00" fill="#a6a6a6"/><rect x="327.06" y="484.90" width="1.26" height="4.00" fill="#d7d7d7"/><rect x="328.32" y="484.90" width="0.88" height="4.00" fill="#efefef"/><rect x="329.20" y="484.90" width="0.61" height="4.00" fill="#d7d7d7"/><rect x="329.81" y="484.90" width="1.02" height="4.00" fill="#eeeeee"/><rect x="330.83" y="484.90" width="1.30" height="4.00" fill="#e5e5e5"/><rect x="332.13" y="484.90" width="0.80" height="4.00" fill="#dadada"/><rect x="332.93" y="484.90" width="1.07" height="4.00" fill="#dcdcdc"/><rect x="334.00" y="484.90" width="0.70" height="4.00" fill="#e4e4e4"/><rect x="334.71" y="484.90" width="0.97" height="4.00" fill="#e1e1e1"/><rect x="335.67" y="484.90" width="0.94" height="4.00" fill="#fafafa"/><rect x="336.61" y="484.90" width="1.03" height="4.00" fill="#e8e8e8"/><rect x="337.64" y="484.90" width="0.95" height="4.00" fill="#d1d1d1"/><rect x="338.59" y="484.90" width="1.24" height="4.00" fill="#b4b4b4"/><rect x="339.83" y="484.90" width="1.18" height="4.00" fill="#898989"/><rect x="341.01" y="484.90" width="1.01" height="4.00" fill="#e0e0e0"/><rect x="342.02" y="484.90" width="0.68" height="4.00" fill="#f5f5f5"/><rect x="342.71" y="484.90" width="0.82" height="4.00" fill="#dcdcdc"/><rect x="343.53" y="484.90" width="1.05" height="4.00" fill="#e8e8e8"/><rect x="344.58" y="484.90" width="0.95" height="4.00" fill="#fafafa"/><rect x="345.53" y="484.90" width="1.01" height="4.00" fill="#e8e8e8"/><rect x="346.54" y="484.90" width="1.03" height="4.00" fill="#e5e5e5"/><rect x="347.57" y="484.90" width="1.16" height="4.00" fill="#fcfcfc"/><rect x="348.73" y="484.90" width="0.81" height="4.00" fill="#fcfcfc"/><rect x="349.54" y="484.90" width="1.27" height="4.00" fill="#fcfcfc"/><rect x="350.81" y="484.90" width="0.95" height="4.00" fill="#a9a9a9"/><rect x="351.76" y="484.90" width="0.66" height="4.00" fill="#9e9e9e"/><rect x="352.42" y="484.90" width="1.32" height="4.00" fill="#f5f5f5"/><rect x="353.74" y="484.90" width="1.13" height="4.00" fill="#737373"/><rect x="354.87" y="484.90" width="1.37" height="4.00" fill="#646464"/><rect x="356.24" y="484.90" width="0.92" height="4.00" fill="#5d5d5d"/><rect x="357.16" y="484.90" width="1.27" height="4.00" fill="#fefefe"/><rect x="358.42" y="484.90" width="1.01" height="4.00" fill="#8d8d8d"/><rect x="359.44" y="484.90" width="0.85" height="4.00" fill="#dadada"/><rect x="360.29" y="484.90" width="1.04" height="4.00" fill="#d1d1d1"/><rect x="361.33" y="484.90" width="0.87" height="4.00" fill="#d1d1d1"/><rect x="362.20" y="484.90" width="0.65" height="4.00" fill="#e8e8e8"/><rect x="362.85" y="484.90" width="1.38" height="4.00" fill="#f5f5f5"/><rect x="364.23" y="484.90" width="0.63" height="4.00" fill="#9c9c9c"/><rect x="364.86" y="484.90" width="0.70" height="4.00" fill="#dddddd"/><rect x="365.56" y="484.90" width="1.26" height="4.00" fill="#fafafa"/><rect x="366.82" y="484.90" width="1.34" height="4.00" fill="#d7d7d7"/>
<defs><linearGradient id="band7" x1="0" y1="0" x2="1" y2="0"><stop offset="0" stop-color="#b00a0a"/><stop offset="0.035" stop-color="#d04848"/><stop offset="0.11" stop-color="#eba8a8"/><stop offset="0.26" stop-color="#fadcdc"/><stop offset="0.40" stop-color="#ffffff"/><stop offset="0.66" stop-color="#ffffff"/><stop offset="0.68" stop-color="#ececfc"/><stop offset="0.87" stop-color="#cdcdf5"/><stop offset="0.94" stop-color="#7070dc"/><stop offset="1" stop-color="#1414b0"/></linearGradient></defs>
<rect x="255.20" y="488.90" width="112.10" height="4.30" fill="url(#band7)"/>
<text x="256.40" y="492.34" font-size="4.515000000000012" fill="#4a0808" textLength="12.33" lengthAdjust="spacingAndGlyphs">Positive</text>
<rect x="292.75" y="489.20" width="36.99" height="3.70" fill="#ffffff"/>
<text x="311.25" y="492.34" font-size="4.515000000000012" text-anchor="middle" fill="#222" textLength="33.63" lengthAdjust="spacingAndGlyphs">miR-146a   vs. WT</text>
<text x="366.50" y="492.34" font-size="4.515000000000012" text-anchor="end" fill="#0a0a3a" textLength="13.45" lengthAdjust="spacingAndGlyphs">Negative</text>
<line x1="258.20" y1="496.26" x2="328.06" y2="496.60" stroke="#c8c8c8" stroke-width="0.6"/>
<line x1="322.46" y1="496.94" x2="364.30" y2="496.94" stroke="#e0e0e0" stroke-width="0.5"/>
<path d="M255.30,483.20 L255.30,471.20 L256.60,464.00 L258.10,459.60 L260.30,451.00 L262.40,448.10 L266.00,445.20 L268.20,442.30 L269.60,438.70 L274.00,439.40 L281.20,442.30 L287.00,443.50 L294.20,445.50 L300.00,448.80 L305.00,451.70 L319.40,459.60 L333.90,467.60 L341.80,471.90 L346.80,472.60 L355.50,476.20 L367.00,482.70" fill="none" stroke="#f0605a" stroke-width="0.7" stroke-linejoin="round"/>
<rect x="255.20" y="437.30" width="112.10" height="62.70" fill="none" stroke="#111" stroke-width="1.2"/>
<line x1="251.80" y1="483.20" x2="255.20" y2="483.20" stroke="#222" stroke-width="0.8"/>
<text x="249.00" y="484.90" font-size="5.0" text-anchor="end" fill="#3a3a3a">0.0</text>
<line x1="251.80" y1="475.83" x2="255.20" y2="475.83" stroke="#222" stroke-width="0.8"/>
<text x="249.00" y="477.53" font-size="5.0" text-anchor="end" fill="#3a3a3a">0.1</text>
<line x1="251.80" y1="468.46" x2="255.20" y2="468.46" stroke="#222" stroke-width="0.8"/>
<text x="249.00" y="470.16" font-size="5.0" text-anchor="end" fill="#3a3a3a">0.2</text>
<line x1="251.80" y1="461.09" x2="255.20" y2="461.09" stroke="#222" stroke-width="0.8"/>
<text x="249.00" y="462.79" font-size="5.0" text-anchor="end" fill="#3a3a3a">0.3</text>
<line x1="251.80" y1="453.72" x2="255.20" y2="453.72" stroke="#222" stroke-width="0.8"/>
<text x="249.00" y="455.42" font-size="5.0" text-anchor="end" fill="#3a3a3a">0.4</text>
<line x1="251.80" y1="446.35" x2="255.20" y2="446.35" stroke="#222" stroke-width="0.8"/>
<text x="249.00" y="448.05" font-size="5.0" text-anchor="end" fill="#3a3a3a">0.5</text>
<line x1="251.80" y1="438.98" x2="255.20" y2="438.98" stroke="#222" stroke-width="0.8"/>
<text x="249.00" y="440.68" font-size="5.0" text-anchor="end" fill="#3a3a3a">0.6</text>
<rect x="252.00" y="493.40" width="3.20" height="6.60" fill="#8a8a8a" stroke="#444" stroke-width="0.4"/>
<text x="250.40" y="496.17" font-size="4.75" text-anchor="end" fill="#3a3a3a">2</text>
<text x="250.40" y="500.60" font-size="4.75" text-anchor="end" fill="#3a3a3a">-4</text>
<line x1="255.20" y1="500.00" x2="255.20" y2="502.20" stroke="#111" stroke-width="0.8"/>
<text x="255.20" y="510.20" font-size="5.0" text-anchor="middle" fill="#3a3a3a">0</text>
<line x1="272.65" y1="500.00" x2="272.65" y2="502.20" stroke="#111" stroke-width="0.8"/>
<text x="272.65" y="510.20" font-size="5.0" text-anchor="middle" fill="#3a3a3a" textLength="9.80" lengthAdjust="spacingAndGlyphs">2000</text>
<line x1="290.10" y1="500.00" x2="290.10" y2="502.20" stroke="#111" stroke-width="0.8"/>
<text x="290.10" y="510.20" font-size="5.0" text-anchor="middle" fill="#3a3a3a" textLength="9.80" lengthAdjust="spacingAndGlyphs">4000</text>
<line x1="307.55" y1="500.00" x2="307.55" y2="502.20" stroke="#111" stroke-width="0.8"/>
<text x="307.55" y="510.20" font-size="5.0" text-anchor="middle" fill="#3a3a3a" textLength="9.80" lengthAdjust="spacingAndGlyphs">6000</text>
<line x1="325.00" y1="500.00" x2="325.00" y2="502.20" stroke="#111" stroke-width="0.8"/>
<text x="325.00" y="510.20" font-size="5.0" text-anchor="middle" fill="#3a3a3a" textLength="9.80" lengthAdjust="spacingAndGlyphs">8000</text>
<line x1="342.45" y1="500.00" x2="342.45" y2="502.20" stroke="#111" stroke-width="0.8"/>
<text x="342.45" y="510.20" font-size="5.0" text-anchor="middle" fill="#3a3a3a" textLength="12.25" lengthAdjust="spacingAndGlyphs">10000</text>
<line x1="359.90" y1="500.00" x2="359.90" y2="502.20" stroke="#111" stroke-width="0.8"/>
<text x="359.90" y="510.20" font-size="5.0" text-anchor="middle" fill="#3a3a3a" textLength="12.25" lengthAdjust="spacingAndGlyphs">12000</text>
<text x="311.40" y="432.60" font-size="6.0" text-anchor="middle" textLength="59.30" lengthAdjust="spacingAndGlyphs">IL6 JAK STAT3 signaling</text>
<text x="365.40" y="442.30" font-size="5.5" text-anchor="end">NES: 2.0550</text>
<text x="365.40" y="448.60" font-size="5.5" text-anchor="end">Nominal p-value: 0</text>
<text x="365.40" y="454.90" font-size="5.5" text-anchor="end">FDR: 0</text>
<text x="239.00" y="460.70" font-size="7.0" text-anchor="middle" fill="#333" transform="rotate(-90 239.00 460.70)">ES</text>
<text x="239.00" y="496.60" font-size="6.8" text-anchor="middle" fill="#333" transform="rotate(-90 239.00 496.60)">S/N</text>
<text x="311.50" y="518.50" font-size="6.0" text-anchor="middle" fill="#333" textLength="47.50" lengthAdjust="spacingAndGlyphs">Rank in ordered gene list</text>
<text x="245.00" y="539.40" font-size="11.3" font-weight="bold" fill="#000">J</text>
<text x="270.30" y="549.80" font-size="7.2" font-style="italic" textLength="27.50" lengthAdjust="spacingAndGlyphs">miR-146a</text>
<text x="298.50" y="546.20" font-size="4.6" textLength="3.00" lengthAdjust="spacingAndGlyphs">-/-</text>
<text x="302.90" y="549.80" font-size="7.2" textLength="20.20" lengthAdjust="spacingAndGlyphs">vs. WT</text>
<text x="400.70" y="549.80" font-size="7.2" font-style="italic" textLength="27.50" lengthAdjust="spacingAndGlyphs">miR-146a</text>
<text x="428.90" y="546.20" font-size="4.6" textLength="3.00" lengthAdjust="spacingAndGlyphs">-/-</text>
<text x="433.30" y="549.80" font-size="7.2" textLength="20.20" lengthAdjust="spacingAndGlyphs">vs. WT</text>
<line x1="267.40" y1="604.83" x2="366.30" y2="604.83" stroke="#f0f0f0" stroke-width="0.5"/>
<line x1="267.40" y1="597.70" x2="366.30" y2="597.70" stroke="#d4d4d4" stroke-width="0.5"/>
<line x1="267.40" y1="590.57" x2="366.30" y2="590.57" stroke="#f0f0f0" stroke-width="0.5"/>
<line x1="267.40" y1="583.44" x2="366.30" y2="583.44" stroke="#f0f0f0" stroke-width="0.5"/>
<line x1="267.40" y1="576.31" x2="366.30" y2="576.31" stroke="#f0f0f0" stroke-width="0.5"/>
<line x1="267.40" y1="569.18" x2="366.30" y2="569.18" stroke="#f0f0f0" stroke-width="0.5"/>
<rect x="267.40" y="606.30" width="98.90" height="3.90" fill="#d6d6d6"/>
<rect x="267.80" y="606.30" width="1.34" height="3.90" fill="#696969"/><rect x="269.14" y="606.30" width="1.07" height="3.90" fill="#6e6e6e"/><rect x="270.21" y="606.30" width="1.10" height="3.90" fill="#6e6e6e"/><rect x="271.31" y="606.30" width="0.84" height="3.90" fill="#d5d5d5"/><rect x="272.16" y="606.30" width="1.15" height="3.90" fill="#4e4e4e"/><rect x="273.31" y="606.30" width="1.37" height="3.90" fill="#3b3b3b"/><rect x="274.68" y="606.30" width="0.73" height="3.90" fill="#ededed"/><rect x="275.41" y="606.30" width="0.65" height="3.90" fill="#6c6c6c"/><rect x="276.06" y="606.30" width="0.62" height="3.90" fill="#8b8b8b"/><rect x="276.68" y="606.30" width="1.27" height="3.90" fill="#767676"/><rect x="277.95" y="606.30" width="1.00" height="3.90" fill="#eeeeee"/><rect x="278.95" y="606.30" width="0.82" height="3.90" fill="#e6e6e6"/><rect x="279.78" y="606.30" width="1.27" height="3.90" fill="#fefefe"/><rect x="281.05" y="606.30" width="0.78" height="3.90" fill="#dfdfdf"/><rect x="281.83" y="606.30" width="1.21" height="3.90" fill="#a9a9a9"/><rect x="283.05" y="606.30" width="0.91" height="3.90" fill="#f7f7f7"/><rect x="283.95" y="606.30" width="0.60" height="3.90" fill="#f7f7f7"/><rect x="284.56" y="606.30" width="0.98" height="3.90" fill="#585858"/><rect x="285.53" y="606.30" width="0.66" height="3.90" fill="#e3e3e3"/><rect x="286.19" y="606.30" width="0.82" height="3.90" fill="#f4f4f4"/><rect x="287.01" y="606.30" width="1.37" height="3.90" fill="#909090"/><rect x="288.38" y="606.30" width="0.80" height="3.90" fill="#d6d6d6"/><rect x="289.17" y="606.30" width="1.24" height="3.90" fill="#aaaaaa"/><rect x="290.41" y="606.30" width="0.96" height="3.90" fill="#7a7a7a"/><rect x="291.37" y="606.30" width="0.70" height="3.90" fill="#6a6a6a"/><rect x="292.07" y="606.30" width="0.94" height="3.90" fill="#d6d6d6"/><rect x="293.01" y="606.30" width="1.38" height="3.90" fill="#969696"/><rect x="294.39" y="606.30" width="1.31" height="3.90" fill="#dfdfdf"/><rect x="295.70" y="606.30" width="1.28" height="3.90" fill="#8a8a8a"/><rect x="296.98" y="606.30" width="1.39" height="3.90" fill="#d5d5d5"/><rect x="298.37" y="606.30" width="1.22" height="3.90" fill="#979797"/><rect x="299.59" y="606.30" width="0.66" height="3.90" fill="#dedede"/><rect x="300.25" y="606.30" width="0.79" height="3.90" fill="#787878"/><rect x="301.04" y="606.30" width="0.96" height="3.90" fill="#e2e2e2"/><rect x="302.00" y="606.30" width="1.06" height="3.90" fill="#e7e7e7"/><rect x="303.06" y="606.30" width="0.72" height="3.90" fill="#d9d9d9"/><rect x="303.79" y="606.30" width="0.80" height="3.90" fill="#f6f6f6"/><rect x="304.59" y="606.30" width="1.35" height="3.90" fill="#696969"/><rect x="305.94" y="606.30" width="1.31" height="3.90" fill="#555555"/><rect x="307.24" y="606.30" width="0.68" height="3.90" fill="#e4e4e4"/><rect x="307.93" y="606.30" width="0.79" height="3.90" fill="#535353"/><rect x="308.72" y="606.30" width="1.26" height="3.90" fill="#dcdcdc"/><rect x="309.98" y="606.30" width="0.74" height="3.90" fill="#dedede"/><rect x="310.72" y="606.30" width="0.78" height="3.90" fill="#d4d4d4"/><rect x="311.50" y="606.30" width="1.09" height="3.90" fill="#f8f8f8"/><rect x="312.59" y="606.30" width="0.76" height="3.90" fill="#585858"/><rect x="313.36" y="606.30" width="0.96" height="3.90" fill="#969696"/><rect x="314.31" y="606.30" width="0.90" height="3.90" fill="#9f9f9f"/><rect x="315.21" y="606.30" width="0.89" height="3.90" fill="#d7d7d7"/><rect x="316.10" y="606.30" width="1.13" height="3.90" fill="#fefefe"/><rect x="317.22" y="606.30" width="0.71" height="3.90" fill="#ebebeb"/><rect x="317.93" y="606.30" width="1.33" height="3.90" fill="#aeaeae"/><rect x="319.26" y="606.30" width="0.62" height="3.90" fill="#fdfdfd"/><rect x="319.88" y="606.30" width="1.18" height="3.90" fill="#e7e7e7"/><rect x="321.06" y="606.30" width="0.66" height="3.90" fill="#fefefe"/><rect x="321.72" y="606.30" width="1.32" height="3.90" fill="#f2f2f2"/><rect x="323.04" y="606.30" width="1.23" height="3.90" fill="#f1f1f1"/><rect x="324.28" y="606.30" width="1.15" height="3.90" fill="#e1e1e1"/><rect x="325.43" y="606.30" width="0.93" height="3.90" fill="#f9f9f9"/><rect x="326.36" y="606.30" width="1.06" height="3.90" fill="#f8f8f8"/><rect x="327.42" y="606.30" width="1.07" height="3.90" fill="#e2e2e2"/><rect x="328.49" y="606.30" width="1.11" height="3.90" fill="#d4d4d4"/><rect x="329.60" y="606.30" width="1.18" height="3.90" fill="#f9f9f9"/><rect x="330.78" y="606.30" width="1.06" height="3.90" fill="#f2f2f2"/><rect x="331.84" y="606.30" width="0.67" height="3.90" fill="#f7f7f7"/><rect x="332.51" y="606.30" width="1.08" height="3.90" fill="#d2d2d2"/><rect x="333.59" y="606.30" width="1.16" height="3.90" fill="#dbdbdb"/><rect x="334.75" y="606.30" width="1.34" height="3.90" fill="#ededed"/><rect x="336.09" y="606.30" width="0.84" height="3.90" fill="#afafaf"/><rect x="336.93" y="606.30" width="0.74" height="3.90" fill="#dadada"/><rect x="337.66" y="606.30" width="0.95" height="3.90" fill="#efefef"/><rect x="338.62" y="606.30" width="1.13" height="3.90" fill="#e0e0e0"/><rect x="339.75" y="606.30" width="1.24" height="3.90" fill="#868686"/><rect x="340.99" y="606.30" width="0.91" height="3.90" fill="#f9f9f9"/><rect x="341.90" y="606.30" width="0.71" height="3.90" fill="#dfdfdf"/><rect x="342.61" y="606.30" width="1.28" height="3.90" fill="#f7f7f7"/><rect x="343.89" y="606.30" width="0.82" height="3.90" fill="#fcfcfc"/><rect x="344.71" y="606.30" width="0.82" height="3.90" fill="#858585"/><rect x="345.53" y="606.30" width="1.10" height="3.90" fill="#888888"/><rect x="346.63" y="606.30" width="1.27" height="3.90" fill="#dfdfdf"/><rect x="347.90" y="606.30" width="0.66" height="3.90" fill="#e5e5e5"/><rect x="348.56" y="606.30" width="0.63" height="3.90" fill="#5c5c5c"/><rect x="349.20" y="606.30" width="0.85" height="3.90" fill="#ebebeb"/><rect x="350.04" y="606.30" width="0.71" height="3.90" fill="#d1d1d1"/><rect x="350.75" y="606.30" width="1.26" height="3.90" fill="#d2d2d2"/><rect x="352.02" y="606.30" width="0.64" height="3.90" fill="#a2a2a2"/><rect x="352.65" y="606.30" width="1.10" height="3.90" fill="#e5e5e5"/><rect x="353.76" y="606.30" width="1.37" height="3.90" fill="#f6f6f6"/><rect x="355.12" y="606.30" width="0.98" height="3.90" fill="#dadada"/><rect x="356.10" y="606.30" width="0.98" height="3.90" fill="#afafaf"/><rect x="357.08" y="606.30" width="0.82" height="3.90" fill="#d9d9d9"/><rect x="357.90" y="606.30" width="1.02" height="3.90" fill="#f1f1f1"/><rect x="358.92" y="606.30" width="0.91" height="3.90" fill="#f3f3f3"/><rect x="359.83" y="606.30" width="0.67" height="3.90" fill="#fafafa"/><rect x="360.50" y="606.30" width="0.70" height="3.90" fill="#f2f2f2"/><rect x="361.20" y="606.30" width="1.33" height="3.90" fill="#ededed"/><rect x="362.53" y="606.30" width="1.30" height="3.90" fill="#ebebeb"/><rect x="363.84" y="606.30" width="0.97" height="3.90" fill="#fcfcfc"/><rect x="364.81" y="606.30" width="1.18" height="3.90" fill="#dadada"/>
<defs><linearGradient id="band11" x1="0" y1="0" x2="1" y2="0"><stop offset="0" stop-color="#c8c8f6"/><stop offset="0.5" stop-color="#c0c0f4"/><stop offset="0.9" stop-color="#a4a4ec"/><stop offset="1" stop-color="#6060d8"/></linearGradient></defs>
<rect x="267.40" y="610.20" width="98.90" height="3.20" fill="url(#band11)"/>
<rect x="267.40" y="610.20" width="1.00" height="3.20" fill="#c01818"/>
<rect x="268.40" y="610.50" width="11.87" height="2.60" fill="#ffffff"/>
<text x="268.80" y="612.76" font-size="3.3599999999999284" fill="#3a0808" textLength="10.88" lengthAdjust="spacingAndGlyphs">Positive</text>
<text x="316.85" y="612.76" font-size="3.3599999999999284" text-anchor="middle" fill="#222" textLength="29.67" lengthAdjust="spacingAndGlyphs">miR-146a   vs. WT</text>
<text x="365.50" y="612.76" font-size="3.3599999999999284" text-anchor="end" fill="#0a0a3a" textLength="11.87" lengthAdjust="spacingAndGlyphs">Negative</text>
<line x1="270.40" y1="616.32" x2="331.69" y2="616.65" stroke="#c8c8c8" stroke-width="0.6"/>
<line x1="326.74" y1="616.98" x2="363.30" y2="616.98" stroke="#e0e0e0" stroke-width="0.5"/>
<path d="M267.50,597.30 L269.00,593.00 L271.70,586.20 L273.50,581.00 L275.40,576.10 L279.00,571.70 L282.60,566.70 L285.50,565.70 L289.00,566.30 L292.00,566.00 L297.70,568.10 L305.00,572.90 L316.50,580.00 L319.40,581.80 L333.90,590.60 L346.80,599.20 L348.30,600.20 L357.00,603.80 L361.30,604.20 L363.50,603.00 L365.60,599.50 L366.20,597.50" fill="none" stroke="#f0605a" stroke-width="0.7" stroke-linejoin="round"/>
<rect x="267.40" y="564.50" width="98.90" height="55.40" fill="none" stroke="#111" stroke-width="1.2"/>
<line x1="264.00" y1="604.83" x2="267.40" y2="604.83" stroke="#222" stroke-width="0.8"/>
<text x="261.20" y="606.53" font-size="4.8" text-anchor="end" fill="#3a3a3a">-0.1</text>
<line x1="264.00" y1="597.70" x2="267.40" y2="597.70" stroke="#222" stroke-width="0.8"/>
<text x="261.20" y="599.40" font-size="4.8" text-anchor="end" fill="#3a3a3a">0.0</text>
<line x1="264.00" y1="590.57" x2="267.40" y2="590.57" stroke="#222" stroke-width="0.8"/>
<text x="261.20" y="592.27" font-size="4.8" text-anchor="end" fill="#3a3a3a">0.1</text>
<line x1="264.00" y1="583.44" x2="267.40" y2="583.44" stroke="#222" stroke-width="0.8"/>
<text x="261.20" y="585.14" font-size="4.8" text-anchor="end" fill="#3a3a3a">0.2</text>
<line x1="264.00" y1="576.31" x2="267.40" y2="576.31" stroke="#222" stroke-width="0.8"/>
<text x="261.20" y="578.01" font-size="4.8" text-anchor="end" fill="#3a3a3a">0.3</text>
<line x1="264.00" y1="569.18" x2="267.40" y2="569.18" stroke="#222" stroke-width="0.8"/>
<text x="261.20" y="570.88" font-size="4.8" text-anchor="end" fill="#3a3a3a">0.4</text>
<rect x="264.20" y="613.60" width="3.20" height="6.30" fill="#8a8a8a" stroke="#444" stroke-width="0.4"/>
<text x="262.60" y="616.25" font-size="4.56" text-anchor="end" fill="#3a3a3a">4</text>
<text x="262.60" y="620.50" font-size="4.56" text-anchor="end" fill="#3a3a3a">-2</text>
<line x1="267.10" y1="619.90" x2="267.10" y2="622.10" stroke="#111" stroke-width="0.8"/>
<text x="267.10" y="629.80" font-size="4.8" text-anchor="middle" fill="#3a3a3a">0</text>
<line x1="280.30" y1="619.90" x2="280.30" y2="622.10" stroke="#111" stroke-width="0.8"/>
<text x="280.30" y="629.80" font-size="4.8" text-anchor="middle" fill="#3a3a3a" textLength="10.20" lengthAdjust="spacingAndGlyphs">2000</text>
<line x1="293.50" y1="619.90" x2="293.50" y2="622.10" stroke="#111" stroke-width="0.8"/>
<text x="293.50" y="629.80" font-size="4.8" text-anchor="middle" fill="#3a3a3a" textLength="10.20" lengthAdjust="spacingAndGlyphs">4000</text>
<line x1="306.70" y1="619.90" x2="306.70" y2="622.10" stroke="#111" stroke-width="0.8"/>
<text x="306.70" y="629.80" font-size="4.8" text-anchor="middle" fill="#3a3a3a" textLength="10.20" lengthAdjust="spacingAndGlyphs">6000</text>
<line x1="319.90" y1="619.90" x2="319.90" y2="622.10" stroke="#111" stroke-width="0.8"/>
<text x="319.90" y="629.80" font-size="4.8" text-anchor="middle" fill="#3a3a3a" textLength="10.20" lengthAdjust="spacingAndGlyphs">8000</text>
<line x1="333.10" y1="619.90" x2="333.10" y2="622.10" stroke="#111" stroke-width="0.8"/>
<text x="333.10" y="629.80" font-size="4.8" text-anchor="middle" fill="#3a3a3a" textLength="12.75" lengthAdjust="spacingAndGlyphs">10000</text>
<line x1="346.30" y1="619.90" x2="346.30" y2="622.10" stroke="#111" stroke-width="0.8"/>
<text x="346.30" y="629.80" font-size="4.8" text-anchor="middle" fill="#3a3a3a" textLength="12.75" lengthAdjust="spacingAndGlyphs">12000</text>
<line x1="359.50" y1="619.90" x2="359.50" y2="622.10" stroke="#111" stroke-width="0.8"/>
<text x="359.50" y="629.80" font-size="4.8" text-anchor="middle" fill="#3a3a3a" textLength="12.75" lengthAdjust="spacingAndGlyphs">14000</text>
<text x="316.50" y="559.80" font-size="6.0" text-anchor="middle" textLength="65.00" lengthAdjust="spacingAndGlyphs">Upregulated in aged HSCs</text>
<text x="364.20" y="569.00" font-size="4.5" text-anchor="end">NES: 1.4305</text>
<text x="364.20" y="574.10" font-size="4.5" text-anchor="end">Nominal p-value: 0</text>
<text x="364.20" y="579.20" font-size="4.5" text-anchor="end">FDR: 0</text>
<text x="248.30" y="587.00" font-size="7.0" text-anchor="middle" fill="#333" transform="rotate(-90 248.30 587.00)">ES</text>
<text x="248.80" y="616.60" font-size="6.8" text-anchor="middle" fill="#333" transform="rotate(-90 248.80 616.60)">S/N</text>
<text x="317.10" y="638.50" font-size="6.0" text-anchor="middle" fill="#333" textLength="47.50" lengthAdjust="spacingAndGlyphs">Rank in ordered gene list</text>
<line x1="397.70" y1="604.83" x2="496.80" y2="604.83" stroke="#f0f0f0" stroke-width="0.5"/>
<line x1="397.70" y1="597.70" x2="496.80" y2="597.70" stroke="#d4d4d4" stroke-width="0.5"/>
<line x1="397.70" y1="590.57" x2="496.80" y2="590.57" stroke="#f0f0f0" stroke-width="0.5"/>
<line x1="397.70" y1="583.44" x2="496.80" y2="583.44" stroke="#f0f0f0" stroke-width="0.5"/>
<line x1="397.70" y1="576.31" x2="496.80" y2="576.31" stroke="#f0f0f0" stroke-width="0.5"/>
<line x1="397.70" y1="569.18" x2="496.80" y2="569.18" stroke="#f0f0f0" stroke-width="0.5"/>
<rect x="397.70" y="606.30" width="99.10" height="3.90" fill="#d6d6d6"/>
<rect x="398.10" y="606.30" width="1.15" height="3.90" fill="#5b5b5b"/><rect x="399.25" y="606.30" width="0.78" height="3.90" fill="#d9d9d9"/><rect x="400.03" y="606.30" width="1.19" height="3.90" fill="#8d8d8d"/><rect x="401.22" y="606.30" width="0.77" height="3.90" fill="#6c6c6c"/><rect x="401.99" y="606.30" width="1.27" height="3.90" fill="#777777"/><rect x="403.26" y="606.30" width="0.82" height="3.90" fill="#d1d1d1"/><rect x="404.08" y="606.30" width="1.25" height="3.90" fill="#474747"/><rect x="405.33" y="606.30" width="1.20" height="3.90" fill="#f7f7f7"/><rect x="406.52" y="606.30" width="0.81" height="3.90" fill="#f5f5f5"/><rect x="407.33" y="606.30" width="1.20" height="3.90" fill="#e7e7e7"/><rect x="408.53" y="606.30" width="0.89" height="3.90" fill="#e4e4e4"/><rect x="409.43" y="606.30" width="0.69" height="3.90" fill="#838383"/><rect x="410.12" y="606.30" width="1.39" height="3.90" fill="#f5f5f5"/><rect x="411.51" y="606.30" width="1.20" height="3.90" fill="#eaeaea"/><rect x="412.71" y="606.30" width="0.95" height="3.90" fill="#6f6f6f"/><rect x="413.66" y="606.30" width="1.02" height="3.90" fill="#9c9c9c"/><rect x="414.68" y="606.30" width="1.08" height="3.90" fill="#848484"/><rect x="415.76" y="606.30" width="0.99" height="3.90" fill="#d7d7d7"/><rect x="416.76" y="606.30" width="0.76" height="3.90" fill="#999999"/><rect x="417.51" y="606.30" width="1.12" height="3.90" fill="#d4d4d4"/><rect x="418.63" y="606.30" width="1.18" height="3.90" fill="#e2e2e2"/><rect x="419.81" y="606.30" width="0.71" height="3.90" fill="#d3d3d3"/><rect x="420.52" y="606.30" width="1.11" height="3.90" fill="#f7f7f7"/><rect x="421.63" y="606.30" width="1.29" height="3.90" fill="#888888"/><rect x="422.93" y="606.30" width="0.76" height="3.90" fill="#f5f5f5"/><rect x="423.69" y="606.30" width="1.17" height="3.90" fill="#e2e2e2"/><rect x="424.86" y="606.30" width="1.08" height="3.90" fill="#535353"/><rect x="425.95" y="606.30" width="1.09" height="3.90" fill="#dadada"/><rect x="427.04" y="606.30" width="0.89" height="3.90" fill="#ececec"/><rect x="427.93" y="606.30" width="0.84" height="3.90" fill="#e0e0e0"/><rect x="428.76" y="606.30" width="0.69" height="3.90" fill="#6e6e6e"/><rect x="429.45" y="606.30" width="1.11" height="3.90" fill="#a9a9a9"/><rect x="430.57" y="606.30" width="0.63" height="3.90" fill="#eaeaea"/><rect x="431.20" y="606.30" width="0.67" height="3.90" fill="#e0e0e0"/><rect x="431.87" y="606.30" width="0.70" height="3.90" fill="#505050"/><rect x="432.57" y="606.30" width="1.08" height="3.90" fill="#dddddd"/><rect x="433.65" y="606.30" width="0.89" height="3.90" fill="#838383"/><rect x="434.54" y="606.30" width="0.87" height="3.90" fill="#d1d1d1"/><rect x="435.41" y="606.30" width="1.01" height="3.90" fill="#fdfdfd"/><rect x="436.42" y="606.30" width="0.84" height="3.90" fill="#efefef"/><rect x="437.26" y="606.30" width="1.33" height="3.90" fill="#808080"/><rect x="438.59" y="606.30" width="1.15" height="3.90" fill="#dcdcdc"/><rect x="439.74" y="606.30" width="1.07" height="3.90" fill="#dcdcdc"/><rect x="440.81" y="606.30" width="0.83" height="3.90" fill="#dcdcdc"/><rect x="441.64" y="606.30" width="0.63" height="3.90" fill="#8e8e8e"/><rect x="442.27" y="606.30" width="1.21" height="3.90" fill="#d5d5d5"/><rect x="443.47" y="606.30" width="1.22" height="3.90" fill="#d1d1d1"/><rect x="444.69" y="606.30" width="1.04" height="3.90" fill="#828282"/><rect x="445.74" y="606.30" width="0.95" height="3.90" fill="#dedede"/><rect x="446.68" y="606.30" width="0.69" height="3.90" fill="#5d5d5d"/><rect x="447.37" y="606.30" width="0.84" height="3.90" fill="#dbdbdb"/><rect x="448.22" y="606.30" width="0.70" height="3.90" fill="#d2d2d2"/><rect x="448.92" y="606.30" width="1.30" height="3.90" fill="#e5e5e5"/><rect x="450.22" y="606.30" width="1.03" height="3.90" fill="#d3d3d3"/><rect x="451.25" y="606.30" width="0.86" height="3.90" fill="#636363"/><rect x="452.11" y="606.30" width="0.70" height="3.90" fill="#eaeaea"/><rect x="452.81" y="606.30" width="1.29" height="3.90" fill="#989898"/><rect x="454.10" y="606.30" width="0.90" height="3.90" fill="#828282"/><rect x="455.00" y="606.30" width="0.77" height="3.90" fill="#f5f5f5"/><rect x="455.77" y="606.30" width="1.35" height="3.90" fill="#efefef"/><rect x="457.12" y="606.30" width="0.95" height="3.90" fill="#fbfbfb"/><rect x="458.07" y="606.30" width="1.27" height="3.90" fill="#ededed"/><rect x="459.34" y="606.30" width="0.71" height="3.90" fill="#d6d6d6"/><rect x="460.05" y="606.30" width="1.03" height="3.90" fill="#f6f6f6"/><rect x="461.08" y="606.30" width="0.84" height="3.90" fill="#535353"/><rect x="461.92" y="606.30" width="0.62" height="3.90" fill="#ababab"/><rect x="462.54" y="606.30" width="1.17" height="3.90" fill="#d6d6d6"/><rect x="463.71" y="606.30" width="1.25" height="3.90" fill="#fefefe"/><rect x="464.96" y="606.30" width="1.27" height="3.90" fill="#ededed"/><rect x="466.23" y="606.30" width="1.21" height="3.90" fill="#dedede"/><rect x="467.44" y="606.30" width="1.40" height="3.90" fill="#929292"/><rect x="468.83" y="606.30" width="1.23" height="3.90" fill="#dddddd"/><rect x="470.06" y="606.30" width="0.62" height="3.90" fill="#d1d1d1"/><rect x="470.69" y="606.30" width="1.35" height="3.90" fill="#909090"/><rect x="472.03" y="606.30" width="1.28" height="3.90" fill="#5e5e5e"/><rect x="473.32" y="606.30" width="1.21" height="3.90" fill="#fefefe"/><rect x="474.53" y="606.30" width="0.97" height="3.90" fill="#dddddd"/><rect x="475.50" y="606.30" width="0.76" height="3.90" fill="#e9e9e9"/><rect x="476.25" y="606.30" width="0.75" height="3.90" fill="#e6e6e6"/><rect x="477.00" y="606.30" width="1.26" height="3.90" fill="#d2d2d2"/><rect x="478.26" y="606.30" width="1.07" height="3.90" fill="#a6a6a6"/><rect x="479.33" y="606.30" width="1.00" height="3.90" fill="#f9f9f9"/><rect x="480.33" y="606.30" width="0.77" height="3.90" fill="#f7f7f7"/><rect x="481.10" y="606.30" width="0.94" height="3.90" fill="#eeeeee"/><rect x="482.04" y="606.30" width="1.29" height="3.90" fill="#d2d2d2"/><rect x="483.33" y="606.30" width="0.72" height="3.90" fill="#5f5f5f"/><rect x="484.06" y="606.30" width="1.34" height="3.90" fill="#808080"/><rect x="485.40" y="606.30" width="1.09" height="3.90" fill="#818181"/><rect x="486.48" y="606.30" width="0.61" height="3.90" fill="#7d7d7d"/><rect x="487.09" y="606.30" width="0.87" height="3.90" fill="#f3f3f3"/><rect x="487.96" y="606.30" width="1.16" height="3.90" fill="#ababab"/><rect x="489.12" y="606.30" width="1.19" height="3.90" fill="#fbfbfb"/><rect x="490.32" y="606.30" width="1.35" height="3.90" fill="#585858"/><rect x="491.66" y="606.30" width="1.15" height="3.90" fill="#f7f7f7"/><rect x="492.81" y="606.30" width="1.07" height="3.90" fill="#efefef"/><rect x="493.88" y="606.30" width="1.18" height="3.90" fill="#a3a3a3"/><rect x="495.06" y="606.30" width="1.11" height="3.90" fill="#d3d3d3"/><rect x="496.17" y="606.30" width="1.22" height="3.90" fill="#e8e8e8"/>
<defs><linearGradient id="band13" x1="0" y1="0" x2="1" y2="0"><stop offset="0" stop-color="#c8c8f6"/><stop offset="0.5" stop-color="#c0c0f4"/><stop offset="0.9" stop-color="#a4a4ec"/><stop offset="1" stop-color="#6060d8"/></linearGradient></defs>
<rect x="397.70" y="610.20" width="99.10" height="3.20" fill="url(#band13)"/>
<rect x="397.70" y="610.20" width="1.00" height="3.20" fill="#c01818"/>
<rect x="398.70" y="610.50" width="11.89" height="2.60" fill="#ffffff"/>
<text x="399.10" y="612.76" font-size="3.3599999999999284" fill="#3a0808" textLength="10.90" lengthAdjust="spacingAndGlyphs">Positive</text>
<text x="447.25" y="612.76" font-size="3.3599999999999284" text-anchor="middle" fill="#222" textLength="29.73" lengthAdjust="spacingAndGlyphs">miR-146a   vs. WT</text>
<text x="496.00" y="612.76" font-size="3.3599999999999284" text-anchor="end" fill="#0a0a3a" textLength="11.89" lengthAdjust="spacingAndGlyphs">Negative</text>
<line x1="400.70" y1="616.32" x2="462.12" y2="616.65" stroke="#c8c8c8" stroke-width="0.6"/>
<line x1="457.16" y1="616.98" x2="493.80" y2="616.98" stroke="#e0e0e0" stroke-width="0.5"/>
<path d="M397.80,597.30 L398.10,594.80 L400.30,583.30 L401.70,578.20 L403.10,576.40 L405.30,573.20 L409.60,568.90 L416.10,566.00 L421.20,567.10 L425.50,566.70 L435.60,571.00 L440.00,574.60 L444.30,577.20 L454.40,583.30 L468.90,592.70 L479.00,599.20 L483.30,602.60 L490.00,604.20 L493.40,604.40 L496.50,599.40" fill="none" stroke="#f0605a" stroke-width="0.7" stroke-linejoin="round"/>
<rect x="397.70" y="564.20" width="99.10" height="55.70" fill="none" stroke="#111" stroke-width="1.2"/>
<line x1="394.30" y1="604.83" x2="397.70" y2="604.83" stroke="#222" stroke-width="0.8"/>
<text x="391.50" y="606.53" font-size="4.8" text-anchor="end" fill="#3a3a3a">-0.1</text>
<line x1="394.30" y1="597.70" x2="397.70" y2="597.70" stroke="#222" stroke-width="0.8"/>
<text x="391.50" y="599.40" font-size="4.8" text-anchor="end" fill="#3a3a3a">0.0</text>
<line x1="394.30" y1="590.57" x2="397.70" y2="590.57" stroke="#222" stroke-width="0.8"/>
<text x="391.50" y="592.27" font-size="4.8" text-anchor="end" fill="#3a3a3a">0.1</text>
<line x1="394.30" y1="583.44" x2="397.70" y2="583.44" stroke="#222" stroke-width="0.8"/>
<text x="391.50" y="585.14" font-size="4.8" text-anchor="end" fill="#3a3a3a">0.2</text>
<line x1="394.30" y1="576.31" x2="397.70" y2="576.31" stroke="#222" stroke-width="0.8"/>
<text x="391.50" y="578.01" font-size="4.8" text-anchor="end" fill="#3a3a3a">0.3</text>
<line x1="394.30" y1="569.18" x2="397.70" y2="569.18" stroke="#222" stroke-width="0.8"/>
<text x="391.50" y="570.88" font-size="4.8" text-anchor="end" fill="#3a3a3a">0.4</text>
<rect x="394.50" y="613.60" width="3.20" height="6.30" fill="#8a8a8a" stroke="#444" stroke-width="0.4"/>
<text x="392.90" y="616.25" font-size="4.56" text-anchor="end" fill="#3a3a3a">4</text>
<text x="392.90" y="620.50" font-size="4.56" text-anchor="end" fill="#3a3a3a">-2</text>
<line x1="397.20" y1="619.90" x2="397.20" y2="622.10" stroke="#111" stroke-width="0.8"/>
<text x="397.20" y="629.80" font-size="4.8" text-anchor="middle" fill="#3a3a3a">0</text>
<line x1="410.53" y1="619.90" x2="410.53" y2="622.10" stroke="#111" stroke-width="0.8"/>
<text x="410.53" y="629.80" font-size="4.8" text-anchor="middle" fill="#3a3a3a" textLength="10.20" lengthAdjust="spacingAndGlyphs">2000</text>
<line x1="423.86" y1="619.90" x2="423.86" y2="622.10" stroke="#111" stroke-width="0.8"/>
<text x="423.86" y="629.80" font-size="4.8" text-anchor="middle" fill="#3a3a3a" textLength="10.20" lengthAdjust="spacingAndGlyphs">4000</text>
<line x1="437.19" y1="619.90" x2="437.19" y2="622.10" stroke="#111" stroke-width="0.8"/>
<text x="437.19" y="629.80" font-size="4.8" text-anchor="middle" fill="#3a3a3a" textLength="10.20" lengthAdjust="spacingAndGlyphs">6000</text>
<line x1="450.52" y1="619.90" x2="450.52" y2="622.10" stroke="#111" stroke-width="0.8"/>
<text x="450.52" y="629.80" font-size="4.8" text-anchor="middle" fill="#3a3a3a" textLength="10.20" lengthAdjust="spacingAndGlyphs">8000</text>
<line x1="463.85" y1="619.90" x2="463.85" y2="622.10" stroke="#111" stroke-width="0.8"/>
<text x="463.85" y="629.80" font-size="4.8" text-anchor="middle" fill="#3a3a3a" textLength="12.75" lengthAdjust="spacingAndGlyphs">10000</text>
<line x1="477.18" y1="619.90" x2="477.18" y2="622.10" stroke="#111" stroke-width="0.8"/>
<text x="477.18" y="629.80" font-size="4.8" text-anchor="middle" fill="#3a3a3a" textLength="12.75" lengthAdjust="spacingAndGlyphs">12000</text>
<line x1="490.51" y1="619.90" x2="490.51" y2="622.10" stroke="#111" stroke-width="0.8"/>
<text x="490.51" y="629.80" font-size="4.8" text-anchor="middle" fill="#3a3a3a" textLength="12.75" lengthAdjust="spacingAndGlyphs">14000</text>
<text x="447.00" y="559.80" font-size="6.0" text-anchor="middle" textLength="71.90" lengthAdjust="spacingAndGlyphs">Downregulated in aged HSCs</text>
<text x="494.80" y="568.80" font-size="4.5" text-anchor="end">NES: 1.3235</text>
<text x="494.80" y="573.90" font-size="4.5" text-anchor="end">Nominal p-value: 0</text>
<text x="494.80" y="579.00" font-size="4.5" text-anchor="end">FDR: 5e-04</text>
<text x="379.30" y="587.00" font-size="7.0" text-anchor="middle" fill="#333" transform="rotate(-90 379.30 587.00)">ES</text>
<text x="379.30" y="616.60" font-size="6.8" text-anchor="middle" fill="#333" transform="rotate(-90 379.30 616.60)">S/N</text>
<text x="447.30" y="638.50" font-size="6.0" text-anchor="middle" fill="#333" textLength="47.50" lengthAdjust="spacingAndGlyphs">Rank in ordered gene list</text>
<text x="7.40" y="484.90" font-size="11.3" font-weight="bold" fill="#000">H</text>
<text x="28.80" y="492.50" font-size="8.2" font-style="italic" textLength="39.20" lengthAdjust="spacingAndGlyphs">miR- 146a</text>
<text x="70.60" y="492.50" font-size="8.2" textLength="44.90" lengthAdjust="spacingAndGlyphs">in aged WT</text>
<line x1="43.80" y1="521.20" x2="43.80" y2="612.90" stroke="#111" stroke-width="1.1"/>
<line x1="43.30" y1="612.40" x2="105.90" y2="612.40" stroke="#111" stroke-width="1.1"/>
<line x1="40.90" y1="612.40" x2="43.80" y2="612.40" stroke="#111" stroke-width="0.8"/>
<text x="38.30" y="614.30" font-size="5.4" text-anchor="end" fill="#444">0.0</text>
<line x1="40.90" y1="582.85" x2="43.80" y2="582.85" stroke="#111" stroke-width="0.8"/>
<text x="38.30" y="584.75" font-size="5.4" text-anchor="end" fill="#444">0.5</text>
<line x1="40.90" y1="553.30" x2="43.80" y2="553.30" stroke="#111" stroke-width="0.8"/>
<text x="38.30" y="555.20" font-size="5.4" text-anchor="end" fill="#444">1.0</text>
<line x1="40.90" y1="523.75" x2="43.80" y2="523.75" stroke="#111" stroke-width="0.8"/>
<text x="38.30" y="525.65" font-size="5.4" text-anchor="end" fill="#444">1.5</text>
<line x1="55.50" y1="612.40" x2="55.50" y2="615.40" stroke="#111" stroke-width="0.8"/>
<line x1="74.30" y1="612.40" x2="74.30" y2="615.40" stroke="#111" stroke-width="0.8"/>
<line x1="92.50" y1="612.40" x2="92.50" y2="615.40" stroke="#111" stroke-width="0.8"/>
<rect x="50.10" y="554.70" width="10.90" height="57.70" fill="#cf8174"/>
<rect x="69.10" y="585.10" width="10.90" height="27.30" fill="#919fcd"/>
<rect x="87.30" y="587.70" width="10.40" height="24.70" fill="#b6d89c"/>
<line x1="55.50" y1="552.60" x2="55.50" y2="555.00" stroke="#222" stroke-width="0.8"/>
<line x1="53.00" y1="552.60" x2="58.20" y2="552.60" stroke="#222" stroke-width="0.8"/>
<line x1="53.00" y1="554.90" x2="58.20" y2="554.90" stroke="#222" stroke-width="0.8"/>
<line x1="74.30" y1="574.40" x2="74.30" y2="593.70" stroke="#222" stroke-width="0.8"/>
<line x1="71.60" y1="574.40" x2="77.00" y2="574.40" stroke="#222" stroke-width="0.8"/>
<line x1="71.60" y1="593.70" x2="77.00" y2="593.70" stroke="#222" stroke-width="0.8"/>
<line x1="92.50" y1="577.70" x2="92.50" y2="595.80" stroke="#222" stroke-width="0.8"/>
<line x1="89.80" y1="577.70" x2="95.20" y2="577.70" stroke="#222" stroke-width="0.8"/>
<line x1="89.80" y1="595.80" x2="95.20" y2="595.80" stroke="#222" stroke-width="0.8"/>
<rect x="72.80" y="538.30" width="3.00" height="3.00" fill="#1f3f88"/>
<circle cx="74.30" cy="577.00" r="1.70" fill="#1f3f88"/>
<circle cx="74.30" cy="585.60" r="1.70" fill="#1f3f88"/>
<rect x="68.50" y="596.60" width="3.00" height="3.00" fill="#1f3f88"/>
<rect x="72.80" y="600.00" width="3.00" height="3.00" fill="#1f3f88"/>
<rect x="76.80" y="600.90" width="3.00" height="3.00" fill="#1f3f88"/>
<circle cx="92.50" cy="561.30" r="1.60" fill="#5bb030"/>
<circle cx="92.50" cy="588.60" r="1.60" fill="#5bb030"/>
<circle cx="89.40" cy="598.90" r="1.60" fill="#5bb030"/>
<circle cx="95.10" cy="598.90" r="1.60" fill="#5bb030"/>
<path d="M53.6,525.2 L53.6,523.0 L92.5,523.0 L92.5,525.2" fill="none" stroke="#222" stroke-width="0.8"/>
<path d="M53.6,535.6 L53.6,533.4 L74.8,533.4 L74.8,535.6" fill="none" stroke="#222" stroke-width="0.8"/>
<text x="74.80" y="521.20" font-size="4.9" text-anchor="middle" fill="#333" textLength="10.30" lengthAdjust="spacingAndGlyphs">0.03</text>
<text x="63.10" y="531.40" font-size="4.9" text-anchor="middle" fill="#333" textLength="10.30" lengthAdjust="spacingAndGlyphs">0.03</text>
<text x="14.00" y="566.20" font-size="7.6" text-anchor="middle" textLength="59.30" lengthAdjust="spacingAndGlyphs" transform="rotate(-90 14.00 566.20)">Relative expression</text>
<text x="25.00" y="566.60" font-size="7.6" text-anchor="middle" textLength="44.20" lengthAdjust="spacingAndGlyphs" transform="rotate(-90 25.00 566.60)">(mean ± SEM)</text>
<text x="59.80" y="622.30" font-size="6.6" text-anchor="end" textLength="33.80" lengthAdjust="spacingAndGlyphs" transform="rotate(-45 59.80 622.30)">Young ESLAM</text>
<text x="77.80" y="622.30" font-size="6.6" text-anchor="end" textLength="49.50" lengthAdjust="spacingAndGlyphs" transform="rotate(-45 77.80 622.30)">Middle-Aged ESLAM</text>
<text x="96.60" y="622.30" font-size="6.6" text-anchor="end" textLength="27.80" lengthAdjust="spacingAndGlyphs" transform="rotate(-45 96.60 622.30)">Old ESLAM</text>
<text x="122.20" y="485.00" font-size="11.3" font-weight="bold" fill="#000">I</text>
<text x="135.50" y="491.80" font-size="8.2" textLength="64.90" lengthAdjust="spacingAndGlyphs">Hypomethylated</text>
<text x="153.20" y="502.40" font-size="6.6" textLength="15.80" lengthAdjust="spacingAndGlyphs">Aged</text>
<text x="177.20" y="506.00" font-size="7.2" font-style="italic" textLength="28.00" lengthAdjust="spacingAndGlyphs">miR-146a</text>
<text x="205.60" y="503.20" font-size="4.6" textLength="3.00" lengthAdjust="spacingAndGlyphs">-/-</text>
<defs><clipPath id="cb1"><circle cx="164.5" cy="537.6" r="30.7"/></clipPath><clipPath id="cb2"><circle cx="149.7" cy="635.8" r="27.9"/></clipPath></defs>
<circle cx="164.50" cy="537.60" r="30.70" fill="#8e9dc4"/>
<circle cx="188.50" cy="520.00" r="12.90" fill="#d9718c"/>
<circle cx="188.50" cy="520.00" r="12.90" fill="#a3496b" clip-path="url(#cb1)"/>
<circle cx="164.50" cy="537.60" r="30.70" fill="none" stroke="#2a2a33" stroke-width="0.7"/>
<circle cx="188.50" cy="520.00" r="12.90" fill="none" stroke="#2a2a33" stroke-width="0.7"/>
<text x="194.00" y="519.80" font-size="6.3" text-anchor="middle" textLength="7.30" lengthAdjust="spacingAndGlyphs">33</text>
<text x="184.20" y="526.20" font-size="6.3" text-anchor="middle" textLength="7.70" lengthAdjust="spacingAndGlyphs">39</text>
<text x="157.90" y="544.00" font-size="6.3" text-anchor="middle" textLength="11.80" lengthAdjust="spacingAndGlyphs">410</text>
<text x="150.10" y="575.80" font-size="6.6" textLength="33.90" lengthAdjust="spacingAndGlyphs">p < 0.00001</text>
<text x="133.80" y="590.60" font-size="8.2" textLength="67.90" lengthAdjust="spacingAndGlyphs">Hypermethylated</text>
<text x="142.00" y="600.80" font-size="6.6" textLength="16.40" lengthAdjust="spacingAndGlyphs">Aged</text>
<text x="177.20" y="610.10" font-size="7.2" font-style="italic" textLength="28.00" lengthAdjust="spacingAndGlyphs">miR-146a</text>
<text x="205.60" y="607.30" font-size="4.6" textLength="3.00" lengthAdjust="spacingAndGlyphs">-/-</text>
<circle cx="149.70" cy="635.80" r="27.90" fill="#8e9dc4"/>
<circle cx="193.60" cy="635.80" r="19.00" fill="#d9718c"/>
<circle cx="193.60" cy="635.80" r="19.00" fill="#a3496b" clip-path="url(#cb2)"/>
<circle cx="149.70" cy="635.80" r="27.90" fill="none" stroke="#2a2a33" stroke-width="0.7"/>
<circle cx="193.60" cy="635.80" r="19.00" fill="none" stroke="#2a2a33" stroke-width="0.7"/>
<text x="147.30" y="638.20" font-size="6.3" text-anchor="middle" textLength="10.60" lengthAdjust="spacingAndGlyphs">377</text>
<text x="194.60" y="638.20" font-size="6.3" text-anchor="middle" textLength="10.20" lengthAdjust="spacingAndGlyphs">181</text>
<line x1="175.70" y1="641.50" x2="175.70" y2="654.20" stroke="#222" stroke-width="1.0"/>
<text x="175.60" y="660.80" font-size="6.6" text-anchor="middle">8</text>
<text x="157.40" y="672.90" font-size="6.6" textLength="24.10" lengthAdjust="spacingAndGlyphs">p = 0.01</text>
<rect x="0.5" y="0.5" width="519" height="682" fill="none" stroke="#000" stroke-width="1.2"/>
</svg></body></html>
